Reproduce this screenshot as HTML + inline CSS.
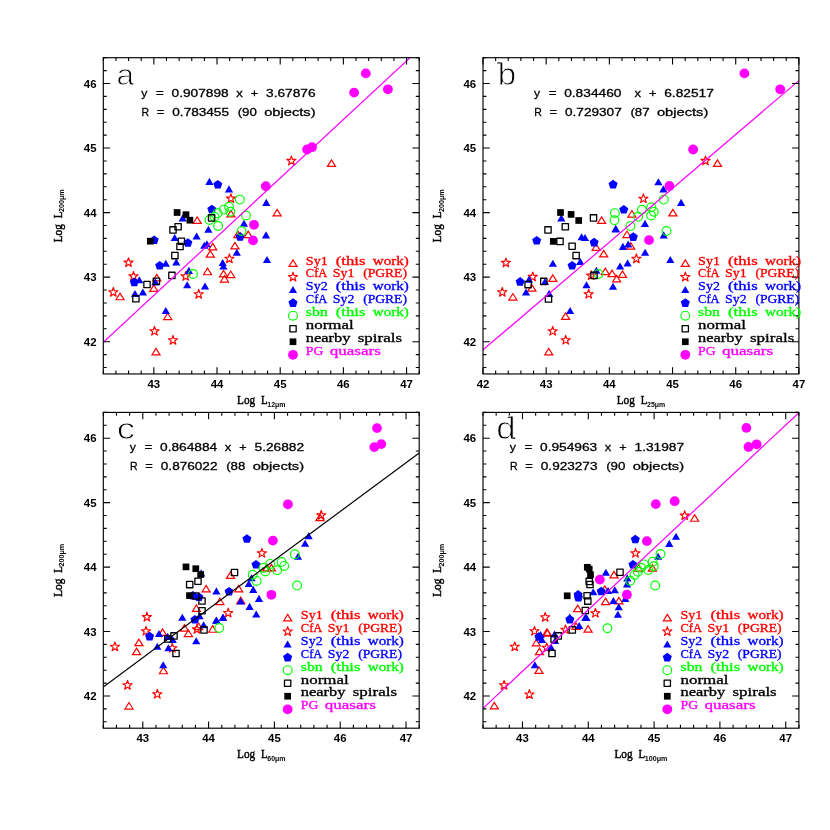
<!DOCTYPE html>
<html><head><meta charset="utf-8"><title>Log L200 correlations</title>
<style>
html,body{margin:0;padding:0;background:#fff;}
body{width:830px;height:830px;overflow:hidden;font-family:"Liberation Sans",sans-serif;}
svg{display:block;will-change:transform;}
.tl{font-family:"Liberation Sans",sans-serif;font-weight:bold;font-size:11.2px;fill:#000;}
.al{font-family:"Liberation Serif",serif;font-size:12.4px;fill:#000;stroke:#000;stroke-width:0.45px;}
.sub{font-family:"Liberation Sans",sans-serif;font-weight:bold;font-size:6.8px;fill:#000;}
.eq{font-family:"Liberation Sans",sans-serif;font-size:11.6px;fill:#000;stroke:#000;stroke-width:0.3px;}
.lg{font-family:"Liberation Serif",serif;font-size:12.5px;stroke-width:0.32px;}
</style></head><body>
<svg width="830" height="830" viewBox="0 0 830 830">
<rect width="830" height="830" fill="#fff"/>
<g id="panel-a">
<clipPath id="clipa"><rect x="103.3" y="57.7" width="315.9" height="316.25"/></clipPath>
<g clip-path="url(#clipa)">
<path d="M193.15 223.45L197.2 216.95L201.25 223.45Z" fill="none" stroke="#ff0000" stroke-width="1.2"/>
<path d="M152.75 280.95L156.8 274.45L160.85 280.95Z" fill="none" stroke="#ff0000" stroke-width="1.2"/>
<path d="M149.75 291.35L153.8 284.85L157.85 291.35Z" fill="none" stroke="#ff0000" stroke-width="1.2"/>
<path d="M115.95 299.75L120 293.25L124.05 299.75Z" fill="none" stroke="#ff0000" stroke-width="1.2"/>
<path d="M226.85 216.95L230.9 210.45L234.95 216.95Z" fill="none" stroke="#ff0000" stroke-width="1.2"/>
<path d="M208.65 249.85L212.7 243.35L216.75 249.85Z" fill="none" stroke="#ff0000" stroke-width="1.2"/>
<path d="M206.25 257.15L210.3 250.65L214.35 257.15Z" fill="none" stroke="#ff0000" stroke-width="1.2"/>
<path d="M203.45 274.75L207.5 268.25L211.55 274.75Z" fill="none" stroke="#ff0000" stroke-width="1.2"/>
<path d="M244.15 237.65L248.2 231.15L252.25 237.65Z" fill="none" stroke="#ff0000" stroke-width="1.2"/>
<path d="M233.85 237.65L237.9 231.15L241.95 237.65Z" fill="none" stroke="#ff0000" stroke-width="1.2"/>
<path d="M230.85 248.95L234.9 242.45L238.95 248.95Z" fill="none" stroke="#ff0000" stroke-width="1.2"/>
<path d="M219.45 276.95L223.5 270.45L227.55 276.95Z" fill="none" stroke="#ff0000" stroke-width="1.2"/>
<path d="M226.65 277.55L230.7 271.05L234.75 277.55Z" fill="none" stroke="#ff0000" stroke-width="1.2"/>
<path d="M220.45 282.05L224.5 275.55L228.55 282.05Z" fill="none" stroke="#ff0000" stroke-width="1.2"/>
<path d="M273.05 215.95L277.1 209.45L281.15 215.95Z" fill="none" stroke="#ff0000" stroke-width="1.2"/>
<path d="M327.45 166.35L331.5 159.85L335.55 166.35Z" fill="none" stroke="#ff0000" stroke-width="1.2"/>
<path d="M163.65 319.55L167.7 313.05L171.75 319.55Z" fill="none" stroke="#ff0000" stroke-width="1.2"/>
<path d="M151.95 354.95L156 348.45L160.05 354.95Z" fill="none" stroke="#ff0000" stroke-width="1.2"/>
<path d="M128.5 257.75L129.62 261.06L133.11 261.1L130.31 263.19L131.35 266.52L128.5 264.5L125.65 266.52L126.69 263.19L123.89 261.1L127.38 261.06Z" fill="none" stroke="#ff0000" stroke-width="1.15" stroke-linejoin="round"/>
<path d="M185.7 271.55L186.82 274.86L190.31 274.9L187.51 276.99L188.55 280.32L185.7 278.3L182.85 280.32L183.89 276.99L181.09 274.9L184.58 274.86Z" fill="none" stroke="#ff0000" stroke-width="1.15" stroke-linejoin="round"/>
<path d="M133.5 271.55L134.62 274.86L138.11 274.9L135.31 276.99L136.35 280.32L133.5 278.3L130.65 280.32L131.69 276.99L128.89 274.9L132.38 274.86Z" fill="none" stroke="#ff0000" stroke-width="1.15" stroke-linejoin="round"/>
<path d="M113.3 287.45L114.42 290.76L117.91 290.8L115.11 292.89L116.15 296.22L113.3 294.2L110.45 296.22L111.49 292.89L108.69 290.8L112.18 290.76Z" fill="none" stroke="#ff0000" stroke-width="1.15" stroke-linejoin="round"/>
<path d="M198.7 289.45L199.82 292.76L203.31 292.8L200.51 294.89L201.55 298.22L198.7 296.2L195.85 298.22L196.89 294.89L194.09 292.8L197.58 292.76Z" fill="none" stroke="#ff0000" stroke-width="1.15" stroke-linejoin="round"/>
<path d="M230.9 193.75L232.02 197.06L235.51 197.1L232.71 199.19L233.75 202.52L230.9 200.5L228.05 202.52L229.09 199.19L226.29 197.1L229.78 197.06Z" fill="none" stroke="#ff0000" stroke-width="1.15" stroke-linejoin="round"/>
<path d="M229.4 253.95L230.52 257.26L234.01 257.3L231.21 259.39L232.25 262.72L229.4 260.7L226.55 262.72L227.59 259.39L224.79 257.3L228.28 257.26Z" fill="none" stroke="#ff0000" stroke-width="1.15" stroke-linejoin="round"/>
<path d="M291.4 156.05L292.52 159.36L296.01 159.4L293.21 161.49L294.25 164.82L291.4 162.8L288.55 164.82L289.59 161.49L286.79 159.4L290.28 159.36Z" fill="none" stroke="#ff0000" stroke-width="1.15" stroke-linejoin="round"/>
<path d="M154.5 326.35L155.62 329.66L159.11 329.7L156.31 331.79L157.35 335.12L154.5 333.1L151.65 335.12L152.69 331.79L149.89 329.7L153.38 329.66Z" fill="none" stroke="#ff0000" stroke-width="1.15" stroke-linejoin="round"/>
<path d="M173 335.45L174.12 338.76L177.61 338.8L174.81 340.89L175.85 344.22L173 342.2L170.15 344.22L171.19 340.89L168.39 338.8L171.88 338.76Z" fill="none" stroke="#ff0000" stroke-width="1.15" stroke-linejoin="round"/>
<path d="M178.6 221.4L182.7 214.35L186.8 221.4Z" fill="#0000ff"/>
<path d="M204.3 232.7L208.4 225.65L212.5 232.7Z" fill="#0000ff"/>
<path d="M170.6 241L174.7 233.95L178.8 241Z" fill="#0000ff"/>
<path d="M192.5 239.5L196.6 232.45L200.7 239.5Z" fill="#0000ff"/>
<path d="M172.2 265.5L176.3 258.45L180.4 265.5Z" fill="#0000ff"/>
<path d="M161.7 266.8L165.8 259.75L169.9 266.8Z" fill="#0000ff"/>
<path d="M184.8 273.9L188.9 266.85L193 273.9Z" fill="#0000ff"/>
<path d="M151.3 285.4L155.4 278.35L159.5 285.4Z" fill="#0000ff"/>
<path d="M135.2 283.3L139.3 276.25L143.4 283.3Z" fill="#0000ff"/>
<path d="M183.1 288.3L187.2 281.25L191.3 288.3Z" fill="#0000ff"/>
<path d="M130.9 297L135 289.95L139.1 297Z" fill="#0000ff"/>
<path d="M138.8 295.5L142.9 288.45L147 295.5Z" fill="#0000ff"/>
<path d="M205.3 184.9L209.4 177.85L213.5 184.9Z" fill="#0000ff"/>
<path d="M224.9 192.4L229 185.35L233.1 192.4Z" fill="#0000ff"/>
<path d="M200.2 248.8L204.3 241.75L208.4 248.8Z" fill="#0000ff"/>
<path d="M202.8 247.3L206.9 240.25L211 247.3Z" fill="#0000ff"/>
<path d="M200.9 289.6L205 282.55L209.1 289.6Z" fill="#0000ff"/>
<path d="M239.9 226.7L244 219.65L248.1 226.7Z" fill="#0000ff"/>
<path d="M261.9 238.4L266 231.35L270.1 238.4Z" fill="#0000ff"/>
<path d="M232.7 255.7L236.8 248.65L240.9 255.7Z" fill="#0000ff"/>
<path d="M262.9 263.1L267 256.05L271.1 263.1Z" fill="#0000ff"/>
<path d="M218.6 266L222.7 258.95L226.8 266Z" fill="#0000ff"/>
<path d="M219.3 269.6L223.4 262.55L227.5 269.6Z" fill="#0000ff"/>
<path d="M262.2 205.9L266.3 198.85L270.4 205.9Z" fill="#0000ff"/>
<path d="M161.7 314L165.8 306.95L169.9 314Z" fill="#0000ff"/>
<path d="M154.2 235.4L158.72 238.68L156.99 243.99L151.41 243.99L149.68 238.68Z" fill="#0000ff"/>
<path d="M187.9 238.2L192.42 241.48L190.69 246.79L185.11 246.79L183.38 241.48Z" fill="#0000ff"/>
<path d="M159.7 261L164.22 264.28L162.49 269.59L156.91 269.59L155.18 264.28Z" fill="#0000ff"/>
<path d="M134.3 277.6L138.82 280.88L137.09 286.19L131.51 286.19L129.78 280.88Z" fill="#0000ff"/>
<path d="M217.8 180L222.32 183.28L220.59 188.59L215.01 188.59L213.28 183.28Z" fill="#0000ff"/>
<path d="M211.8 204.7L216.32 207.98L214.59 213.29L209.01 213.29L207.28 207.98Z" fill="#0000ff"/>
<path d="M240.1 232.1L244.62 235.38L242.89 240.69L237.31 240.69L235.58 235.38Z" fill="#0000ff"/>
<circle cx="209.5" cy="220" r="4.4" fill="none" stroke="#00ff00" stroke-width="1.15"/>
<circle cx="218.1" cy="226" r="4.4" fill="none" stroke="#00ff00" stroke-width="1.15"/>
<circle cx="223.9" cy="209.6" r="4.4" fill="none" stroke="#00ff00" stroke-width="1.15"/>
<circle cx="229" cy="206.8" r="4.4" fill="none" stroke="#00ff00" stroke-width="1.15"/>
<circle cx="230.3" cy="211.7" r="4.4" fill="none" stroke="#00ff00" stroke-width="1.15"/>
<circle cx="239.8" cy="199.6" r="4.4" fill="none" stroke="#00ff00" stroke-width="1.15"/>
<circle cx="246" cy="215.5" r="4.4" fill="none" stroke="#00ff00" stroke-width="1.15"/>
<circle cx="241.6" cy="231" r="4.4" fill="none" stroke="#00ff00" stroke-width="1.15"/>
<circle cx="193" cy="274" r="4.4" fill="none" stroke="#00ff00" stroke-width="1.15"/>
<circle cx="217.6" cy="213.3" r="4.4" fill="none" stroke="#00ff00" stroke-width="1.15"/>
<circle cx="214.5" cy="216.7" r="4.4" fill="none" stroke="#00ff00" stroke-width="1.15"/>
<rect x="174.95" y="223.55" width="6.3" height="6.3" fill="none" stroke="#000000" stroke-width="1.3" stroke-linejoin="round"/>
<rect x="169.85" y="226.75" width="6.3" height="6.3" fill="none" stroke="#000000" stroke-width="1.3" stroke-linejoin="round"/>
<rect x="178.25" y="238.05" width="6.3" height="6.3" fill="none" stroke="#000000" stroke-width="1.3" stroke-linejoin="round"/>
<rect x="176.85" y="243.35" width="6.3" height="6.3" fill="none" stroke="#000000" stroke-width="1.3" stroke-linejoin="round"/>
<rect x="171.75" y="252.45" width="6.3" height="6.3" fill="none" stroke="#000000" stroke-width="1.3" stroke-linejoin="round"/>
<rect x="168.75" y="272.25" width="6.3" height="6.3" fill="none" stroke="#000000" stroke-width="1.3" stroke-linejoin="round"/>
<rect x="153.25" y="278.05" width="6.3" height="6.3" fill="none" stroke="#000000" stroke-width="1.3" stroke-linejoin="round"/>
<rect x="143.85" y="281.35" width="6.3" height="6.3" fill="none" stroke="#000000" stroke-width="1.3" stroke-linejoin="round"/>
<rect x="132.75" y="295.65" width="6.3" height="6.3" fill="none" stroke="#000000" stroke-width="1.3" stroke-linejoin="round"/>
<rect x="208.45" y="214.75" width="6.3" height="6.3" fill="none" stroke="#000000" stroke-width="1.3" stroke-linejoin="round"/>
<rect x="173.75" y="209.15" width="6.7" height="6.7" fill="#000000"/>
<rect x="182.65" y="211.35" width="6.7" height="6.7" fill="#000000"/>
<rect x="186.55" y="216.85" width="6.7" height="6.7" fill="#000000"/>
<rect x="146.95" y="237.85" width="6.7" height="6.7" fill="#000000"/>
<circle cx="254" cy="224.8" r="4.9" fill="#ff00ff"/>
<circle cx="253" cy="240.4" r="4.9" fill="#ff00ff"/>
<circle cx="265.8" cy="186.2" r="4.9" fill="#ff00ff"/>
<circle cx="365.8" cy="73.4" r="4.9" fill="#ff00ff"/>
<circle cx="354.1" cy="92.6" r="4.9" fill="#ff00ff"/>
<circle cx="387.9" cy="89.3" r="4.9" fill="#ff00ff"/>
<circle cx="307.1" cy="149.5" r="4.9" fill="#ff00ff"/>
<circle cx="312" cy="147.2" r="4.9" fill="#ff00ff"/>
</g>
<line x1="103.3" y1="342.19" x2="419.2" y2="49.21" stroke="#ff00ff" stroke-width="1.2" clip-path="url(#clipa)"/>
<path d="M103.3 373.95v-3.4M103.3 57.7v3.4M115.94 373.95v-3.4M115.94 57.7v3.4M128.57 373.95v-3.4M128.57 57.7v3.4M141.21 373.95v-3.4M141.21 57.7v3.4M153.84 373.95v-6.8M153.84 57.7v6.8M166.48 373.95v-3.4M166.48 57.7v3.4M179.12 373.95v-3.4M179.12 57.7v3.4M191.75 373.95v-3.4M191.75 57.7v3.4M204.39 373.95v-3.4M204.39 57.7v3.4M217.02 373.95v-6.8M217.02 57.7v6.8M229.66 373.95v-3.4M229.66 57.7v3.4M242.3 373.95v-3.4M242.3 57.7v3.4M254.93 373.95v-3.4M254.93 57.7v3.4M267.57 373.95v-3.4M267.57 57.7v3.4M280.2 373.95v-6.8M280.2 57.7v6.8M292.84 373.95v-3.4M292.84 57.7v3.4M305.48 373.95v-3.4M305.48 57.7v3.4M318.11 373.95v-3.4M318.11 57.7v3.4M330.75 373.95v-3.4M330.75 57.7v3.4M343.38 373.95v-6.8M343.38 57.7v6.8M356.02 373.95v-3.4M356.02 57.7v3.4M368.66 373.95v-3.4M368.66 57.7v3.4M381.29 373.95v-3.4M381.29 57.7v3.4M393.93 373.95v-3.4M393.93 57.7v3.4M406.56 373.95v-6.8M406.56 57.7v6.8M419.2 373.95v-3.4M419.2 57.7v3.4M103.3 367.5h3.4M419.2 367.5h-3.4M103.3 354.59h3.4M419.2 354.59h-3.4M103.3 341.68h6.8M419.2 341.68h-6.8M103.3 328.77h3.4M419.2 328.77h-3.4M103.3 315.86h3.4M419.2 315.86h-3.4M103.3 302.96h3.4M419.2 302.96h-3.4M103.3 290.05h3.4M419.2 290.05h-3.4M103.3 277.14h6.8M419.2 277.14h-6.8M103.3 264.23h3.4M419.2 264.23h-3.4M103.3 251.32h3.4M419.2 251.32h-3.4M103.3 238.41h3.4M419.2 238.41h-3.4M103.3 225.51h3.4M419.2 225.51h-3.4M103.3 212.6h6.8M419.2 212.6h-6.8M103.3 199.69h3.4M419.2 199.69h-3.4M103.3 186.78h3.4M419.2 186.78h-3.4M103.3 173.87h3.4M419.2 173.87h-3.4M103.3 160.97h3.4M419.2 160.97h-3.4M103.3 148.06h6.8M419.2 148.06h-6.8M103.3 135.15h3.4M419.2 135.15h-3.4M103.3 122.24h3.4M419.2 122.24h-3.4M103.3 109.33h3.4M419.2 109.33h-3.4M103.3 96.42h3.4M419.2 96.42h-3.4M103.3 83.52h6.8M419.2 83.52h-6.8M103.3 70.61h3.4M419.2 70.61h-3.4M103.3 57.7h3.4M419.2 57.7h-3.4" stroke="#000" stroke-width="1.1" fill="none"/>
<rect x="103.3" y="57.7" width="315.9" height="316.25" fill="none" stroke="#000" stroke-width="1.15"/>
<text x="153.84" y="388.05" class="tl" text-anchor="middle" textLength="12.7" lengthAdjust="spacingAndGlyphs">43</text>
<text x="217.02" y="388.05" class="tl" text-anchor="middle" textLength="12.7" lengthAdjust="spacingAndGlyphs">44</text>
<text x="280.2" y="388.05" class="tl" text-anchor="middle" textLength="12.7" lengthAdjust="spacingAndGlyphs">45</text>
<text x="343.38" y="388.05" class="tl" text-anchor="middle" textLength="12.7" lengthAdjust="spacingAndGlyphs">46</text>
<text x="406.56" y="388.05" class="tl" text-anchor="middle" textLength="12.7" lengthAdjust="spacingAndGlyphs">47</text>
<text x="96.5" y="345.78" class="tl" text-anchor="end" textLength="12.7" lengthAdjust="spacingAndGlyphs">42</text>
<text x="96.5" y="281.24" class="tl" text-anchor="end" textLength="12.7" lengthAdjust="spacingAndGlyphs">43</text>
<text x="96.5" y="216.7" class="tl" text-anchor="end" textLength="12.7" lengthAdjust="spacingAndGlyphs">44</text>
<text x="96.5" y="152.16" class="tl" text-anchor="end" textLength="12.7" lengthAdjust="spacingAndGlyphs">45</text>
<text x="96.5" y="87.62" class="tl" text-anchor="end" textLength="12.7" lengthAdjust="spacingAndGlyphs">46</text>
<g transform="translate(261.25 404.05)"><text x="-24.19" y="0" class="al" textLength="18.1" lengthAdjust="spacingAndGlyphs">Log</text><text x="-0.19" y="0" class="al" textLength="6.6" lengthAdjust="spacingAndGlyphs">L</text><text x="6.11" y="2.5" class="sub" textLength="18.08" lengthAdjust="spacingAndGlyphs">12μm</text></g>
<g transform="translate(61.7 215.82) rotate(-90)"><text x="-26.45" y="0" class="al" textLength="18.1" lengthAdjust="spacingAndGlyphs">Log</text><text x="-2.45" y="0" class="al" textLength="6.6" lengthAdjust="spacingAndGlyphs">L</text><text x="3.85" y="2.5" class="sub" textLength="22.6" lengthAdjust="spacingAndGlyphs">200μm</text></g>
<text x="141.3" y="96.6" class="eq" textLength="6.1" lengthAdjust="spacingAndGlyphs">y</text>
<text x="156.1" y="96.6" class="eq" textLength="7.8" lengthAdjust="spacingAndGlyphs">=</text>
<text x="171.5" y="96.6" class="eq" textLength="57.2" lengthAdjust="spacingAndGlyphs">0.907898</text>
<text x="236.2" y="96.6" class="eq" textLength="6.5" lengthAdjust="spacingAndGlyphs">x</text>
<text x="250.7" y="96.6" class="eq" textLength="7.4" lengthAdjust="spacingAndGlyphs">+</text>
<text x="266" y="96.6" class="eq" textLength="49.6" lengthAdjust="spacingAndGlyphs">3.67876</text>
<text x="141.6" y="115.8" class="eq" textLength="7.6" lengthAdjust="spacingAndGlyphs">R</text>
<text x="156.7" y="115.8" class="eq" textLength="7.5" lengthAdjust="spacingAndGlyphs">=</text>
<text x="172.3" y="115.8" class="eq" textLength="56.7" lengthAdjust="spacingAndGlyphs">0.783455</text>
<text x="237.7" y="115.8" class="eq" textLength="19.2" lengthAdjust="spacingAndGlyphs">(90</text>
<text x="264.2" y="115.8" class="eq" textLength="51.4" lengthAdjust="spacingAndGlyphs">objects)</text>
<text x="116.6" y="84.7" font-family="Liberation Sans, sans-serif" font-size="29.3" fill="#000" stroke="#fff" stroke-width="0.95" textLength="17.6" lengthAdjust="spacingAndGlyphs">a</text>
<path d="M288.95 266.45L293 259.95L297.05 266.45Z" fill="none" stroke="#ff0000" stroke-width="1.2"/>
<text x="305.85" y="264.5" class="lg" fill="#ff0000" stroke="#ff0000" textLength="21.8" lengthAdjust="spacingAndGlyphs">Sy1</text>
<text x="335.75" y="264.5" class="lg" fill="#ff0000" stroke="#ff0000" textLength="29.8" lengthAdjust="spacingAndGlyphs">(this</text>
<text x="372.85" y="264.5" class="lg" fill="#ff0000" stroke="#ff0000" textLength="36" lengthAdjust="spacingAndGlyphs">work)</text>
<path d="M293 272.19L294.12 275.5L297.61 275.54L294.81 277.63L295.85 280.96L293 278.94L290.15 280.96L291.19 277.63L288.39 275.54L291.88 275.5Z" fill="none" stroke="#ff0000" stroke-width="1.15" stroke-linejoin="round"/>
<text x="305.85" y="277.38" class="lg" fill="#ff0000" stroke="#ff0000" textLength="21.5" lengthAdjust="spacingAndGlyphs">CfA</text>
<text x="332.85" y="277.38" class="lg" fill="#ff0000" stroke="#ff0000" textLength="21.6" lengthAdjust="spacingAndGlyphs">Sy1</text>
<text x="363.15" y="277.38" class="lg" fill="#ff0000" stroke="#ff0000" textLength="43.8" lengthAdjust="spacingAndGlyphs">(PGRE)</text>
<path d="M288.9 293.08L293 286.03L297.1 293.08Z" fill="#0000ff"/>
<text x="305.85" y="290.26" class="lg" fill="#0000ff" stroke="#0000ff" textLength="21.8" lengthAdjust="spacingAndGlyphs">Sy2</text>
<text x="335.75" y="290.26" class="lg" fill="#0000ff" stroke="#0000ff" textLength="29.8" lengthAdjust="spacingAndGlyphs">(this</text>
<text x="372.85" y="290.26" class="lg" fill="#0000ff" stroke="#0000ff" textLength="36" lengthAdjust="spacingAndGlyphs">work)</text>
<path d="M293 298.32L297.52 301.6L295.79 306.91L290.21 306.91L288.48 301.6Z" fill="#0000ff"/>
<text x="305.85" y="303.14" class="lg" fill="#0000ff" stroke="#0000ff" textLength="21.5" lengthAdjust="spacingAndGlyphs">CfA</text>
<text x="332.85" y="303.14" class="lg" fill="#0000ff" stroke="#0000ff" textLength="21.6" lengthAdjust="spacingAndGlyphs">Sy2</text>
<text x="363.15" y="303.14" class="lg" fill="#0000ff" stroke="#0000ff" textLength="43.8" lengthAdjust="spacingAndGlyphs">(PGRE)</text>
<circle cx="293" cy="315.66" r="4.4" fill="none" stroke="#00ff00" stroke-width="1.15"/>
<text x="305.85" y="316.02" class="lg" fill="#00ff00" stroke="#00ff00" textLength="21.9" lengthAdjust="spacingAndGlyphs">sbn</text>
<text x="335.75" y="316.02" class="lg" fill="#00ff00" stroke="#00ff00" textLength="29.8" lengthAdjust="spacingAndGlyphs">(this</text>
<text x="372.85" y="316.02" class="lg" fill="#00ff00" stroke="#00ff00" textLength="36" lengthAdjust="spacingAndGlyphs">work)</text>
<rect x="289.85" y="325.55" width="6.3" height="6.3" fill="none" stroke="#000000" stroke-width="1.3" stroke-linejoin="round"/>
<text x="305.85" y="328.9" class="lg" fill="#000000" stroke="#000000" textLength="47.8" lengthAdjust="spacingAndGlyphs">normal</text>
<rect x="289.65" y="338.39" width="6.7" height="6.7" fill="#000000"/>
<text x="305.85" y="341.78" class="lg" fill="#000000" stroke="#000000" textLength="44.6" lengthAdjust="spacingAndGlyphs">nearby</text>
<text x="357.75" y="341.78" class="lg" fill="#000000" stroke="#000000" textLength="44.3" lengthAdjust="spacingAndGlyphs">spirals</text>
<circle cx="293" cy="354.78" r="4.9" fill="#ff00ff"/>
<text x="305.85" y="354.66" class="lg" fill="#ff00ff" stroke="#ff00ff" textLength="17.5" lengthAdjust="spacingAndGlyphs">PG</text>
<text x="329.75" y="354.66" class="lg" fill="#ff00ff" stroke="#ff00ff" textLength="51.1" lengthAdjust="spacingAndGlyphs">quasars</text>
</g>
<g id="panel-b">
<clipPath id="clipb"><rect x="483" y="57.7" width="315.9" height="316.25"/></clipPath>
<g clip-path="url(#clipb)">
<path d="M592.05 250.45L596.1 243.95L600.15 250.45Z" fill="none" stroke="#ff0000" stroke-width="1.2"/>
<path d="M599.65 256.85L603.7 250.35L607.75 256.85Z" fill="none" stroke="#ff0000" stroke-width="1.2"/>
<path d="M622.95 237.55L627 231.05L631.05 237.55Z" fill="none" stroke="#ff0000" stroke-width="1.2"/>
<path d="M626.65 249.15L630.7 242.65L634.75 249.15Z" fill="none" stroke="#ff0000" stroke-width="1.2"/>
<path d="M601.25 274.65L605.3 268.15L609.35 274.65Z" fill="none" stroke="#ff0000" stroke-width="1.2"/>
<path d="M608.05 276.65L612.1 270.15L616.15 276.65Z" fill="none" stroke="#ff0000" stroke-width="1.2"/>
<path d="M618.45 277.35L622.5 270.85L626.55 277.35Z" fill="none" stroke="#ff0000" stroke-width="1.2"/>
<path d="M612.55 281.95L616.6 275.45L620.65 281.95Z" fill="none" stroke="#ff0000" stroke-width="1.2"/>
<path d="M627.85 217.05L631.9 210.55L635.95 217.05Z" fill="none" stroke="#ff0000" stroke-width="1.2"/>
<path d="M668.85 215.85L672.9 209.35L676.95 215.85Z" fill="none" stroke="#ff0000" stroke-width="1.2"/>
<path d="M597.55 223.45L601.6 216.95L605.65 223.45Z" fill="none" stroke="#ff0000" stroke-width="1.2"/>
<path d="M713.45 166.35L717.5 159.85L721.55 166.35Z" fill="none" stroke="#ff0000" stroke-width="1.2"/>
<path d="M527.85 291.15L531.9 284.65L535.95 291.15Z" fill="none" stroke="#ff0000" stroke-width="1.2"/>
<path d="M548.75 281.35L552.8 274.85L556.85 281.35Z" fill="none" stroke="#ff0000" stroke-width="1.2"/>
<path d="M508.85 300.05L512.9 293.55L516.95 300.05Z" fill="none" stroke="#ff0000" stroke-width="1.2"/>
<path d="M561.55 319.35L565.6 312.85L569.65 319.35Z" fill="none" stroke="#ff0000" stroke-width="1.2"/>
<path d="M544.65 354.95L548.7 348.45L552.75 354.95Z" fill="none" stroke="#ff0000" stroke-width="1.2"/>
<path d="M636.4 253.95L637.52 257.26L641.01 257.3L638.21 259.39L639.25 262.72L636.4 260.7L633.55 262.72L634.59 259.39L631.79 257.3L635.28 257.26Z" fill="none" stroke="#ff0000" stroke-width="1.15" stroke-linejoin="round"/>
<path d="M591.1 270.75L592.22 274.06L595.71 274.1L592.91 276.19L593.95 279.52L591.1 277.5L588.25 279.52L589.29 276.19L586.49 274.1L589.98 274.06Z" fill="none" stroke="#ff0000" stroke-width="1.15" stroke-linejoin="round"/>
<path d="M588.7 289.35L589.82 292.66L593.31 292.7L590.51 294.79L591.55 298.12L588.7 296.1L585.85 298.12L586.89 294.79L584.09 292.7L587.58 292.66Z" fill="none" stroke="#ff0000" stroke-width="1.15" stroke-linejoin="round"/>
<path d="M643.4 193.85L644.52 197.16L648.01 197.2L645.21 199.29L646.25 202.62L643.4 200.6L640.55 202.62L641.59 199.29L638.79 197.2L642.28 197.16Z" fill="none" stroke="#ff0000" stroke-width="1.15" stroke-linejoin="round"/>
<path d="M705.5 156.05L706.62 159.36L710.11 159.4L707.31 161.49L708.35 164.82L705.5 162.8L702.65 164.82L703.69 161.49L700.89 159.4L704.38 159.36Z" fill="none" stroke="#ff0000" stroke-width="1.15" stroke-linejoin="round"/>
<path d="M505.9 258.05L507.02 261.36L510.51 261.4L507.71 263.49L508.75 266.82L505.9 264.8L503.05 266.82L504.09 263.49L501.29 261.4L504.78 261.36Z" fill="none" stroke="#ff0000" stroke-width="1.15" stroke-linejoin="round"/>
<path d="M532.7 272.05L533.82 275.36L537.31 275.4L534.51 277.49L535.55 280.82L532.7 278.8L529.85 280.82L530.89 277.49L528.09 275.4L531.58 275.36Z" fill="none" stroke="#ff0000" stroke-width="1.15" stroke-linejoin="round"/>
<path d="M502.3 287.45L503.42 290.76L506.91 290.8L504.11 292.89L505.15 296.22L502.3 294.2L499.45 296.22L500.49 292.89L497.69 290.8L501.18 290.76Z" fill="none" stroke="#ff0000" stroke-width="1.15" stroke-linejoin="round"/>
<path d="M552.7 326.35L553.82 329.66L557.31 329.7L554.51 331.79L555.55 335.12L552.7 333.1L549.85 335.12L550.89 331.79L548.09 329.7L551.58 329.66Z" fill="none" stroke="#ff0000" stroke-width="1.15" stroke-linejoin="round"/>
<path d="M565.7 335.35L566.82 338.66L570.31 338.7L567.51 340.79L568.55 344.12L565.7 342.1L562.85 344.12L563.89 340.79L561.09 338.7L564.58 338.66Z" fill="none" stroke="#ff0000" stroke-width="1.15" stroke-linejoin="round"/>
<path d="M557.2 221.4L561.3 214.35L565.4 221.4Z" fill="#0000ff"/>
<path d="M576.1 264.9L580.2 257.85L584.3 264.9Z" fill="#0000ff"/>
<path d="M577.5 240.3L581.6 233.25L585.7 240.3Z" fill="#0000ff"/>
<path d="M580.9 241L585 233.95L589.1 241Z" fill="#0000ff"/>
<path d="M618.8 249.9L622.9 242.85L627 249.9Z" fill="#0000ff"/>
<path d="M624.1 247.6L628.2 240.55L632.3 247.6Z" fill="#0000ff"/>
<path d="M641 255.8L645.1 248.75L649.2 255.8Z" fill="#0000ff"/>
<path d="M623.5 266.4L627.6 259.35L631.7 266.4Z" fill="#0000ff"/>
<path d="M616 269.5L620.1 262.45L624.2 269.5Z" fill="#0000ff"/>
<path d="M592.3 273.8L596.4 266.75L600.5 273.8Z" fill="#0000ff"/>
<path d="M582.4 288.3L586.5 281.25L590.6 288.3Z" fill="#0000ff"/>
<path d="M608.9 289.7L613 282.65L617.1 289.7Z" fill="#0000ff"/>
<path d="M640.9 226.9L645 219.85L649.1 226.9Z" fill="#0000ff"/>
<path d="M611.6 232.4L615.7 225.35L619.8 232.4Z" fill="#0000ff"/>
<path d="M659.6 238.4L663.7 231.35L667.8 238.4Z" fill="#0000ff"/>
<path d="M666.2 263L670.3 255.95L674.4 263Z" fill="#0000ff"/>
<path d="M654.3 185.2L658.4 178.15L662.5 185.2Z" fill="#0000ff"/>
<path d="M659.3 192.4L663.4 185.35L667.5 192.4Z" fill="#0000ff"/>
<path d="M677 205.9L681.1 198.85L685.2 205.9Z" fill="#0000ff"/>
<path d="M611.6 231.9L615.7 224.85L619.8 231.9Z" fill="#0000ff"/>
<path d="M548.8 266.8L552.9 259.75L557 266.8Z" fill="#0000ff"/>
<path d="M524.9 282.8L529 275.75L533.1 282.8Z" fill="#0000ff"/>
<path d="M521.9 295.6L526 288.55L530.1 295.6Z" fill="#0000ff"/>
<path d="M540.9 285.1L545 278.05L549.1 285.1Z" fill="#0000ff"/>
<path d="M545.1 296.9L549.2 289.85L553.3 296.9Z" fill="#0000ff"/>
<path d="M566 314L570.1 306.95L574.2 314Z" fill="#0000ff"/>
<path d="M536.7 236L541.22 239.28L539.49 244.59L533.91 244.59L532.18 239.28Z" fill="#0000ff"/>
<path d="M572.1 261L576.62 264.28L574.89 269.59L569.31 269.59L567.58 264.28Z" fill="#0000ff"/>
<path d="M594.1 237.8L598.62 241.08L596.89 246.39L591.31 246.39L589.58 241.08Z" fill="#0000ff"/>
<path d="M633.3 232.3L637.82 235.58L636.09 240.89L630.51 240.89L628.78 235.58Z" fill="#0000ff"/>
<path d="M623.8 205L628.32 208.28L626.59 213.59L621.01 213.59L619.28 208.28Z" fill="#0000ff"/>
<path d="M613.1 179.8L617.62 183.08L615.89 188.39L610.31 188.39L608.58 183.08Z" fill="#0000ff"/>
<path d="M520.1 277.1L524.62 280.38L522.89 285.69L517.31 285.69L515.58 280.38Z" fill="#0000ff"/>
<circle cx="598.5" cy="274" r="4.4" fill="none" stroke="#00ff00" stroke-width="1.15"/>
<circle cx="663.8" cy="199.6" r="4.4" fill="none" stroke="#00ff00" stroke-width="1.15"/>
<circle cx="651.3" cy="207.2" r="4.4" fill="none" stroke="#00ff00" stroke-width="1.15"/>
<circle cx="641.9" cy="209.8" r="4.4" fill="none" stroke="#00ff00" stroke-width="1.15"/>
<circle cx="653.8" cy="211.7" r="4.4" fill="none" stroke="#00ff00" stroke-width="1.15"/>
<circle cx="651.1" cy="215.5" r="4.4" fill="none" stroke="#00ff00" stroke-width="1.15"/>
<circle cx="638.1" cy="216.8" r="4.4" fill="none" stroke="#00ff00" stroke-width="1.15"/>
<circle cx="614.9" cy="213.1" r="4.4" fill="none" stroke="#00ff00" stroke-width="1.15"/>
<circle cx="614.5" cy="220.2" r="4.4" fill="none" stroke="#00ff00" stroke-width="1.15"/>
<circle cx="630.4" cy="226.1" r="4.4" fill="none" stroke="#00ff00" stroke-width="1.15"/>
<circle cx="666.5" cy="231" r="4.4" fill="none" stroke="#00ff00" stroke-width="1.15"/>
<rect x="590.35" y="214.75" width="6.3" height="6.3" fill="none" stroke="#000000" stroke-width="1.3" stroke-linejoin="round"/>
<rect x="562.15" y="223.55" width="6.3" height="6.3" fill="none" stroke="#000000" stroke-width="1.3" stroke-linejoin="round"/>
<rect x="544.85" y="226.75" width="6.3" height="6.3" fill="none" stroke="#000000" stroke-width="1.3" stroke-linejoin="round"/>
<rect x="556.85" y="238.25" width="6.3" height="6.3" fill="none" stroke="#000000" stroke-width="1.3" stroke-linejoin="round"/>
<rect x="568.95" y="243.05" width="6.3" height="6.3" fill="none" stroke="#000000" stroke-width="1.3" stroke-linejoin="round"/>
<rect x="572.95" y="252.45" width="6.3" height="6.3" fill="none" stroke="#000000" stroke-width="1.3" stroke-linejoin="round"/>
<rect x="590.85" y="272.25" width="6.3" height="6.3" fill="none" stroke="#000000" stroke-width="1.3" stroke-linejoin="round"/>
<rect x="524.95" y="281.45" width="6.3" height="6.3" fill="none" stroke="#000000" stroke-width="1.3" stroke-linejoin="round"/>
<rect x="540.65" y="278.25" width="6.3" height="6.3" fill="none" stroke="#000000" stroke-width="1.3" stroke-linejoin="round"/>
<rect x="545.35" y="295.85" width="6.3" height="6.3" fill="none" stroke="#000000" stroke-width="1.3" stroke-linejoin="round"/>
<rect x="557.15" y="209.15" width="6.7" height="6.7" fill="#000000"/>
<rect x="567.75" y="211.05" width="6.7" height="6.7" fill="#000000"/>
<rect x="575.35" y="217.15" width="6.7" height="6.7" fill="#000000"/>
<rect x="549.95" y="238.05" width="6.7" height="6.7" fill="#000000"/>
<circle cx="649" cy="240.1" r="4.9" fill="#ff00ff"/>
<circle cx="744.4" cy="73.4" r="4.9" fill="#ff00ff"/>
<circle cx="780.2" cy="89.3" r="4.9" fill="#ff00ff"/>
<circle cx="693.1" cy="149.5" r="4.9" fill="#ff00ff"/>
<circle cx="669.4" cy="186" r="4.9" fill="#ff00ff"/>
</g>
<line x1="483" y1="349.91" x2="798.9" y2="80.63" stroke="#ff00ff" stroke-width="1.2" clip-path="url(#clipb)"/>
<path d="M483 373.95v-6.8M483 57.7v6.8M495.64 373.95v-3.4M495.64 57.7v3.4M508.27 373.95v-3.4M508.27 57.7v3.4M520.91 373.95v-3.4M520.91 57.7v3.4M533.54 373.95v-3.4M533.54 57.7v3.4M546.18 373.95v-6.8M546.18 57.7v6.8M558.82 373.95v-3.4M558.82 57.7v3.4M571.45 373.95v-3.4M571.45 57.7v3.4M584.09 373.95v-3.4M584.09 57.7v3.4M596.72 373.95v-3.4M596.72 57.7v3.4M609.36 373.95v-6.8M609.36 57.7v6.8M622 373.95v-3.4M622 57.7v3.4M634.63 373.95v-3.4M634.63 57.7v3.4M647.27 373.95v-3.4M647.27 57.7v3.4M659.9 373.95v-3.4M659.9 57.7v3.4M672.54 373.95v-6.8M672.54 57.7v6.8M685.18 373.95v-3.4M685.18 57.7v3.4M697.81 373.95v-3.4M697.81 57.7v3.4M710.45 373.95v-3.4M710.45 57.7v3.4M723.08 373.95v-3.4M723.08 57.7v3.4M735.72 373.95v-6.8M735.72 57.7v6.8M748.36 373.95v-3.4M748.36 57.7v3.4M760.99 373.95v-3.4M760.99 57.7v3.4M773.63 373.95v-3.4M773.63 57.7v3.4M786.26 373.95v-3.4M786.26 57.7v3.4M798.9 373.95v-6.8M798.9 57.7v6.8M483 367.5h3.4M798.9 367.5h-3.4M483 354.59h3.4M798.9 354.59h-3.4M483 341.68h6.8M798.9 341.68h-6.8M483 328.77h3.4M798.9 328.77h-3.4M483 315.86h3.4M798.9 315.86h-3.4M483 302.96h3.4M798.9 302.96h-3.4M483 290.05h3.4M798.9 290.05h-3.4M483 277.14h6.8M798.9 277.14h-6.8M483 264.23h3.4M798.9 264.23h-3.4M483 251.32h3.4M798.9 251.32h-3.4M483 238.41h3.4M798.9 238.41h-3.4M483 225.51h3.4M798.9 225.51h-3.4M483 212.6h6.8M798.9 212.6h-6.8M483 199.69h3.4M798.9 199.69h-3.4M483 186.78h3.4M798.9 186.78h-3.4M483 173.87h3.4M798.9 173.87h-3.4M483 160.97h3.4M798.9 160.97h-3.4M483 148.06h6.8M798.9 148.06h-6.8M483 135.15h3.4M798.9 135.15h-3.4M483 122.24h3.4M798.9 122.24h-3.4M483 109.33h3.4M798.9 109.33h-3.4M483 96.42h3.4M798.9 96.42h-3.4M483 83.52h6.8M798.9 83.52h-6.8M483 70.61h3.4M798.9 70.61h-3.4M483 57.7h3.4M798.9 57.7h-3.4" stroke="#000" stroke-width="1.1" fill="none"/>
<rect x="483" y="57.7" width="315.9" height="316.25" fill="none" stroke="#000" stroke-width="1.15"/>
<text x="483" y="388.05" class="tl" text-anchor="middle" textLength="12.7" lengthAdjust="spacingAndGlyphs">42</text>
<text x="546.18" y="388.05" class="tl" text-anchor="middle" textLength="12.7" lengthAdjust="spacingAndGlyphs">43</text>
<text x="609.36" y="388.05" class="tl" text-anchor="middle" textLength="12.7" lengthAdjust="spacingAndGlyphs">44</text>
<text x="672.54" y="388.05" class="tl" text-anchor="middle" textLength="12.7" lengthAdjust="spacingAndGlyphs">45</text>
<text x="735.72" y="388.05" class="tl" text-anchor="middle" textLength="12.7" lengthAdjust="spacingAndGlyphs">46</text>
<text x="798.9" y="388.05" class="tl" text-anchor="middle" textLength="12.7" lengthAdjust="spacingAndGlyphs">47</text>
<text x="476.2" y="345.78" class="tl" text-anchor="end" textLength="12.7" lengthAdjust="spacingAndGlyphs">42</text>
<text x="476.2" y="281.24" class="tl" text-anchor="end" textLength="12.7" lengthAdjust="spacingAndGlyphs">43</text>
<text x="476.2" y="216.7" class="tl" text-anchor="end" textLength="12.7" lengthAdjust="spacingAndGlyphs">44</text>
<text x="476.2" y="152.16" class="tl" text-anchor="end" textLength="12.7" lengthAdjust="spacingAndGlyphs">45</text>
<text x="476.2" y="87.62" class="tl" text-anchor="end" textLength="12.7" lengthAdjust="spacingAndGlyphs">46</text>
<g transform="translate(640.95 404.05)"><text x="-24.19" y="0" class="al" textLength="18.1" lengthAdjust="spacingAndGlyphs">Log</text><text x="-0.19" y="0" class="al" textLength="6.6" lengthAdjust="spacingAndGlyphs">L</text><text x="6.11" y="2.5" class="sub" textLength="18.08" lengthAdjust="spacingAndGlyphs">25μm</text></g>
<g transform="translate(441.4 215.82) rotate(-90)"><text x="-26.45" y="0" class="al" textLength="18.1" lengthAdjust="spacingAndGlyphs">Log</text><text x="-2.45" y="0" class="al" textLength="6.6" lengthAdjust="spacingAndGlyphs">L</text><text x="3.85" y="2.5" class="sub" textLength="22.6" lengthAdjust="spacingAndGlyphs">200μm</text></g>
<text x="534" y="96.6" class="eq" textLength="6.1" lengthAdjust="spacingAndGlyphs">y</text>
<text x="548.8" y="96.6" class="eq" textLength="7.8" lengthAdjust="spacingAndGlyphs">=</text>
<text x="564.2" y="96.6" class="eq" textLength="57.2" lengthAdjust="spacingAndGlyphs">0.834460</text>
<text x="634.4" y="96.6" class="eq" textLength="6.5" lengthAdjust="spacingAndGlyphs">x</text>
<text x="648.9" y="96.6" class="eq" textLength="7.4" lengthAdjust="spacingAndGlyphs">+</text>
<text x="664.2" y="96.6" class="eq" textLength="49.6" lengthAdjust="spacingAndGlyphs">6.82517</text>
<text x="534.3" y="115.8" class="eq" textLength="7.6" lengthAdjust="spacingAndGlyphs">R</text>
<text x="549.4" y="115.8" class="eq" textLength="7.5" lengthAdjust="spacingAndGlyphs">=</text>
<text x="565" y="115.8" class="eq" textLength="56.7" lengthAdjust="spacingAndGlyphs">0.729307</text>
<text x="630.4" y="115.8" class="eq" textLength="19.2" lengthAdjust="spacingAndGlyphs">(87</text>
<text x="656.9" y="115.8" class="eq" textLength="51.4" lengthAdjust="spacingAndGlyphs">objects)</text>
<text x="497.8" y="84.5" font-family="Liberation Sans, sans-serif" font-size="30.6" fill="#000" stroke="#fff" stroke-width="0.95" textLength="18.4" lengthAdjust="spacingAndGlyphs">b</text>
<path d="M497.3 62.9H500.6" stroke="#000" stroke-width="1.1" fill="none"/>
<path d="M681.25 266.45L685.3 259.95L689.35 266.45Z" fill="none" stroke="#ff0000" stroke-width="1.2"/>
<text x="698.1" y="264.5" class="lg" fill="#ff0000" stroke="#ff0000" textLength="21.8" lengthAdjust="spacingAndGlyphs">Sy1</text>
<text x="728" y="264.5" class="lg" fill="#ff0000" stroke="#ff0000" textLength="29.8" lengthAdjust="spacingAndGlyphs">(this</text>
<text x="765.1" y="264.5" class="lg" fill="#ff0000" stroke="#ff0000" textLength="36" lengthAdjust="spacingAndGlyphs">work)</text>
<path d="M685.3 272.19L686.42 275.5L689.91 275.54L687.11 277.63L688.15 280.96L685.3 278.94L682.45 280.96L683.49 277.63L680.69 275.54L684.18 275.5Z" fill="none" stroke="#ff0000" stroke-width="1.15" stroke-linejoin="round"/>
<text x="698.1" y="277.38" class="lg" fill="#ff0000" stroke="#ff0000" textLength="21.5" lengthAdjust="spacingAndGlyphs">CfA</text>
<text x="725.1" y="277.38" class="lg" fill="#ff0000" stroke="#ff0000" textLength="21.6" lengthAdjust="spacingAndGlyphs">Sy1</text>
<text x="755.4" y="277.38" class="lg" fill="#ff0000" stroke="#ff0000" textLength="43.8" lengthAdjust="spacingAndGlyphs">(PGRE)</text>
<path d="M681.2 293.08L685.3 286.03L689.4 293.08Z" fill="#0000ff"/>
<text x="698.1" y="290.26" class="lg" fill="#0000ff" stroke="#0000ff" textLength="21.8" lengthAdjust="spacingAndGlyphs">Sy2</text>
<text x="728" y="290.26" class="lg" fill="#0000ff" stroke="#0000ff" textLength="29.8" lengthAdjust="spacingAndGlyphs">(this</text>
<text x="765.1" y="290.26" class="lg" fill="#0000ff" stroke="#0000ff" textLength="36" lengthAdjust="spacingAndGlyphs">work)</text>
<path d="M685.3 298.32L689.82 301.6L688.09 306.91L682.51 306.91L680.78 301.6Z" fill="#0000ff"/>
<text x="698.1" y="303.14" class="lg" fill="#0000ff" stroke="#0000ff" textLength="21.5" lengthAdjust="spacingAndGlyphs">CfA</text>
<text x="725.1" y="303.14" class="lg" fill="#0000ff" stroke="#0000ff" textLength="21.6" lengthAdjust="spacingAndGlyphs">Sy2</text>
<text x="755.4" y="303.14" class="lg" fill="#0000ff" stroke="#0000ff" textLength="43.8" lengthAdjust="spacingAndGlyphs">(PGRE)</text>
<circle cx="685.3" cy="315.66" r="4.4" fill="none" stroke="#00ff00" stroke-width="1.15"/>
<text x="698.1" y="316.02" class="lg" fill="#00ff00" stroke="#00ff00" textLength="21.9" lengthAdjust="spacingAndGlyphs">sbn</text>
<text x="728" y="316.02" class="lg" fill="#00ff00" stroke="#00ff00" textLength="29.8" lengthAdjust="spacingAndGlyphs">(this</text>
<text x="765.1" y="316.02" class="lg" fill="#00ff00" stroke="#00ff00" textLength="36" lengthAdjust="spacingAndGlyphs">work)</text>
<rect x="682.15" y="325.55" width="6.3" height="6.3" fill="none" stroke="#000000" stroke-width="1.3" stroke-linejoin="round"/>
<text x="698.1" y="328.9" class="lg" fill="#000000" stroke="#000000" textLength="47.8" lengthAdjust="spacingAndGlyphs">normal</text>
<rect x="681.95" y="338.39" width="6.7" height="6.7" fill="#000000"/>
<text x="698.1" y="341.78" class="lg" fill="#000000" stroke="#000000" textLength="44.6" lengthAdjust="spacingAndGlyphs">nearby</text>
<text x="750" y="341.78" class="lg" fill="#000000" stroke="#000000" textLength="44.3" lengthAdjust="spacingAndGlyphs">spirals</text>
<circle cx="685.3" cy="354.78" r="4.9" fill="#ff00ff"/>
<text x="698.1" y="354.66" class="lg" fill="#ff00ff" stroke="#ff00ff" textLength="17.5" lengthAdjust="spacingAndGlyphs">PG</text>
<text x="722" y="354.66" class="lg" fill="#ff00ff" stroke="#ff00ff" textLength="51.1" lengthAdjust="spacingAndGlyphs">quasars</text>
</g>
<g id="panel-c">
<clipPath id="clipc"><rect x="103.3" y="412.4" width="315.9" height="315.8"/></clipPath>
<g clip-path="url(#clipc)">
<path d="M202.05 591.95L206.1 585.45L210.15 591.95Z" fill="none" stroke="#ff0000" stroke-width="1.2"/>
<path d="M215.85 604.55L219.9 598.05L223.95 604.55Z" fill="none" stroke="#ff0000" stroke-width="1.2"/>
<path d="M192.35 611.45L196.4 604.95L200.45 611.45Z" fill="none" stroke="#ff0000" stroke-width="1.2"/>
<path d="M194.55 629.55L198.6 623.05L202.65 629.55Z" fill="none" stroke="#ff0000" stroke-width="1.2"/>
<path d="M208.65 632.25L212.7 625.75L216.75 632.25Z" fill="none" stroke="#ff0000" stroke-width="1.2"/>
<path d="M180.45 631.15L184.5 624.65L188.55 631.15Z" fill="none" stroke="#ff0000" stroke-width="1.2"/>
<path d="M184.35 636.55L188.4 630.05L192.45 636.55Z" fill="none" stroke="#ff0000" stroke-width="1.2"/>
<path d="M158.55 635.35L162.6 628.85L166.65 635.35Z" fill="none" stroke="#ff0000" stroke-width="1.2"/>
<path d="M134.85 645.65L138.9 639.15L142.95 645.65Z" fill="none" stroke="#ff0000" stroke-width="1.2"/>
<path d="M132.55 654.65L136.6 648.15L140.65 654.65Z" fill="none" stroke="#ff0000" stroke-width="1.2"/>
<path d="M159.35 673.75L163.4 667.25L167.45 673.75Z" fill="none" stroke="#ff0000" stroke-width="1.2"/>
<path d="M124.95 709.05L129 702.55L133.05 709.05Z" fill="none" stroke="#ff0000" stroke-width="1.2"/>
<path d="M262.85 570.85L266.9 564.35L270.95 570.85Z" fill="none" stroke="#ff0000" stroke-width="1.2"/>
<path d="M267.35 570.85L271.4 564.35L275.45 570.85Z" fill="none" stroke="#ff0000" stroke-width="1.2"/>
<path d="M234.65 591.95L238.7 585.45L242.75 591.95Z" fill="none" stroke="#ff0000" stroke-width="1.2"/>
<path d="M236.65 603.75L240.7 597.25L244.75 603.75Z" fill="none" stroke="#ff0000" stroke-width="1.2"/>
<path d="M226.45 578.35L230.5 571.85L234.55 578.35Z" fill="none" stroke="#ff0000" stroke-width="1.2"/>
<path d="M315.95 520.65L320 514.15L324.05 520.65Z" fill="none" stroke="#ff0000" stroke-width="1.2"/>
<path d="M196.9 624.55L198.02 627.86L201.51 627.9L198.71 629.99L199.75 633.32L196.9 631.3L194.05 633.32L195.09 629.99L192.29 627.9L195.78 627.86Z" fill="none" stroke="#ff0000" stroke-width="1.15" stroke-linejoin="round"/>
<path d="M146.9 612.25L148.02 615.56L151.51 615.6L148.71 617.69L149.75 621.02L146.9 619L144.05 621.02L145.09 617.69L142.29 615.6L145.78 615.56Z" fill="none" stroke="#ff0000" stroke-width="1.15" stroke-linejoin="round"/>
<path d="M146 626.35L147.12 629.66L150.61 629.7L147.81 631.79L148.85 635.12L146 633.1L143.15 635.12L144.19 631.79L141.39 629.7L144.88 629.66Z" fill="none" stroke="#ff0000" stroke-width="1.15" stroke-linejoin="round"/>
<path d="M172.3 643.35L173.42 646.66L176.91 646.7L174.11 648.79L175.15 652.12L172.3 650.1L169.45 652.12L170.49 648.79L167.69 646.7L171.18 646.66Z" fill="none" stroke="#ff0000" stroke-width="1.15" stroke-linejoin="round"/>
<path d="M114.9 641.95L116.02 645.26L119.51 645.3L116.71 647.39L117.75 650.72L114.9 648.7L112.05 650.72L113.09 647.39L110.29 645.3L113.78 645.26Z" fill="none" stroke="#ff0000" stroke-width="1.15" stroke-linejoin="round"/>
<path d="M127.5 680.45L128.62 683.76L132.11 683.8L129.31 685.89L130.35 689.22L127.5 687.2L124.65 689.22L125.69 685.89L122.89 683.8L126.38 683.76Z" fill="none" stroke="#ff0000" stroke-width="1.15" stroke-linejoin="round"/>
<path d="M157.3 689.35L158.42 692.66L161.91 692.7L159.11 694.79L160.15 698.12L157.3 696.1L154.45 698.12L155.49 694.79L152.69 692.7L156.18 692.66Z" fill="none" stroke="#ff0000" stroke-width="1.15" stroke-linejoin="round"/>
<path d="M261.9 548.35L263.02 551.66L266.51 551.7L263.71 553.79L264.75 557.12L261.9 555.1L259.05 557.12L260.09 553.79L257.29 551.7L260.78 551.66Z" fill="none" stroke="#ff0000" stroke-width="1.15" stroke-linejoin="round"/>
<path d="M228.2 608.15L229.32 611.46L232.81 611.5L230.01 613.59L231.05 616.92L228.2 614.9L225.35 616.92L226.39 613.59L223.59 611.5L227.08 611.46Z" fill="none" stroke="#ff0000" stroke-width="1.15" stroke-linejoin="round"/>
<path d="M321.2 510.45L322.32 513.76L325.81 513.8L323.01 515.89L324.05 519.22L321.2 517.2L318.35 519.22L319.39 515.89L316.59 513.8L320.08 513.76Z" fill="none" stroke="#ff0000" stroke-width="1.15" stroke-linejoin="round"/>
<path d="M197.1 576.4L201.2 569.35L205.3 576.4Z" fill="#0000ff"/>
<path d="M212.3 594.4L216.4 587.35L220.5 594.4Z" fill="#0000ff"/>
<path d="M178.2 620.8L182.3 613.75L186.4 620.8Z" fill="#0000ff"/>
<path d="M195.5 619.3L199.6 612.25L203.7 619.3Z" fill="#0000ff"/>
<path d="M212.2 623.7L216.3 616.65L220.4 623.7Z" fill="#0000ff"/>
<path d="M218.9 620.8L223 613.75L227.1 620.8Z" fill="#0000ff"/>
<path d="M199.5 628.3L203.6 621.25L207.7 628.3Z" fill="#0000ff"/>
<path d="M192.1 644.2L196.2 637.15L200.3 644.2Z" fill="#0000ff"/>
<path d="M154.9 637.1L159 630.05L163.1 637.1Z" fill="#0000ff"/>
<path d="M163.6 639.9L167.7 632.85L171.8 639.9Z" fill="#0000ff"/>
<path d="M168.6 642.9L172.7 635.85L176.8 642.9Z" fill="#0000ff"/>
<path d="M153.2 649.8L157.3 642.75L161.4 649.8Z" fill="#0000ff"/>
<path d="M164.3 651.2L168.4 644.15L172.5 651.2Z" fill="#0000ff"/>
<path d="M159.1 668.2L163.2 661.15L167.3 668.2Z" fill="#0000ff"/>
<path d="M293.9 559.7L298 552.65L302.1 559.7Z" fill="#0000ff"/>
<path d="M247.5 581.2L251.6 574.15L255.7 581.2Z" fill="#0000ff"/>
<path d="M244.7 587.1L248.8 580.05L252.9 587.1Z" fill="#0000ff"/>
<path d="M249.2 592.9L253.3 585.85L257.4 592.9Z" fill="#0000ff"/>
<path d="M254.9 601.9L259 594.85L263.1 601.9Z" fill="#0000ff"/>
<path d="M236.6 604.5L240.7 597.45L244.8 604.5Z" fill="#0000ff"/>
<path d="M245.5 609.9L249.6 602.85L253.7 609.9Z" fill="#0000ff"/>
<path d="M252.1 617.6L256.2 610.55L260.3 617.6Z" fill="#0000ff"/>
<path d="M218.9 620.7L223 613.65L227.1 620.7Z" fill="#0000ff"/>
<path d="M212.3 623.6L216.4 616.55L220.5 623.6Z" fill="#0000ff"/>
<path d="M304.6 539.3L308.7 532.25L312.8 539.3Z" fill="#0000ff"/>
<path d="M301 546.8L305.1 539.75L309.2 546.8Z" fill="#0000ff"/>
<path d="M193 590.9L197.52 594.18L195.79 599.49L190.21 599.49L188.48 594.18Z" fill="#0000ff"/>
<path d="M198.9 592.5L203.42 595.78L201.69 601.09L196.11 601.09L194.38 595.78Z" fill="#0000ff"/>
<path d="M194.9 614.9L199.42 618.18L197.69 623.49L192.11 623.49L190.38 618.18Z" fill="#0000ff"/>
<path d="M149.6 631.8L154.12 635.08L152.39 640.39L146.81 640.39L145.08 635.08Z" fill="#0000ff"/>
<path d="M246.9 534.2L251.42 537.48L249.69 542.79L244.11 542.79L242.38 537.48Z" fill="#0000ff"/>
<path d="M256 560L260.52 563.28L258.79 568.59L253.21 568.59L251.48 563.28Z" fill="#0000ff"/>
<path d="M229.1 586.9L233.62 590.18L231.89 595.49L226.31 595.49L224.58 590.18Z" fill="#0000ff"/>
<circle cx="219.2" cy="628" r="4.4" fill="none" stroke="#00ff00" stroke-width="1.15"/>
<circle cx="294.9" cy="554.2" r="4.4" fill="none" stroke="#00ff00" stroke-width="1.15"/>
<circle cx="270.2" cy="563.9" r="4.4" fill="none" stroke="#00ff00" stroke-width="1.15"/>
<circle cx="281.6" cy="562.1" r="4.4" fill="none" stroke="#00ff00" stroke-width="1.15"/>
<circle cx="284.2" cy="565.9" r="4.4" fill="none" stroke="#00ff00" stroke-width="1.15"/>
<circle cx="263.5" cy="567.9" r="4.4" fill="none" stroke="#00ff00" stroke-width="1.15"/>
<circle cx="265.3" cy="571.5" r="4.4" fill="none" stroke="#00ff00" stroke-width="1.15"/>
<circle cx="277.2" cy="570.2" r="4.4" fill="none" stroke="#00ff00" stroke-width="1.15"/>
<circle cx="252.7" cy="574.8" r="4.4" fill="none" stroke="#00ff00" stroke-width="1.15"/>
<circle cx="256.6" cy="580.9" r="4.4" fill="none" stroke="#00ff00" stroke-width="1.15"/>
<circle cx="297.1" cy="585.6" r="4.4" fill="none" stroke="#00ff00" stroke-width="1.15"/>
<rect x="194.85" y="578.05" width="6.3" height="6.3" fill="none" stroke="#000000" stroke-width="1.3" stroke-linejoin="round"/>
<rect x="186.55" y="581.45" width="6.3" height="6.3" fill="none" stroke="#000000" stroke-width="1.3" stroke-linejoin="round"/>
<rect x="192.65" y="592.85" width="6.3" height="6.3" fill="none" stroke="#000000" stroke-width="1.3" stroke-linejoin="round"/>
<rect x="198.85" y="597.85" width="6.3" height="6.3" fill="none" stroke="#000000" stroke-width="1.3" stroke-linejoin="round"/>
<rect x="198.85" y="607.55" width="6.3" height="6.3" fill="none" stroke="#000000" stroke-width="1.3" stroke-linejoin="round"/>
<rect x="200.85" y="626.75" width="6.3" height="6.3" fill="none" stroke="#000000" stroke-width="1.3" stroke-linejoin="round"/>
<rect x="164.65" y="635.85" width="6.3" height="6.3" fill="none" stroke="#000000" stroke-width="1.3" stroke-linejoin="round"/>
<rect x="170.85" y="632.75" width="6.3" height="6.3" fill="none" stroke="#000000" stroke-width="1.3" stroke-linejoin="round"/>
<rect x="172.85" y="650.35" width="6.3" height="6.3" fill="none" stroke="#000000" stroke-width="1.3" stroke-linejoin="round"/>
<rect x="231.35" y="569.35" width="6.3" height="6.3" fill="none" stroke="#000000" stroke-width="1.3" stroke-linejoin="round"/>
<rect x="182.65" y="563.55" width="6.7" height="6.7" fill="#000000"/>
<rect x="192.45" y="565.35" width="6.7" height="6.7" fill="#000000"/>
<rect x="197.35" y="571.15" width="6.7" height="6.7" fill="#000000"/>
<rect x="186.15" y="592.25" width="6.7" height="6.7" fill="#000000"/>
<circle cx="272.9" cy="540.6" r="4.9" fill="#ff00ff"/>
<circle cx="271.4" cy="594.8" r="4.9" fill="#ff00ff"/>
<circle cx="287.9" cy="504.3" r="4.9" fill="#ff00ff"/>
<circle cx="377" cy="428.1" r="4.9" fill="#ff00ff"/>
<circle cx="381.3" cy="444.1" r="4.9" fill="#ff00ff"/>
<circle cx="374.3" cy="447.1" r="4.9" fill="#ff00ff"/>
</g>
<line x1="103.3" y1="686.9" x2="419.2" y2="453.0" stroke="#000000" stroke-width="1.2" clip-path="url(#clipc)"/>
<path d="M103.3 728.2v-3.4M103.3 412.4v3.4M116.46 728.2v-3.4M116.46 412.4v3.4M129.62 728.2v-3.4M129.62 412.4v3.4M142.79 728.2v-6.8M142.79 412.4v6.8M155.95 728.2v-3.4M155.95 412.4v3.4M169.11 728.2v-3.4M169.11 412.4v3.4M182.28 728.2v-3.4M182.28 412.4v3.4M195.44 728.2v-3.4M195.44 412.4v3.4M208.6 728.2v-6.8M208.6 412.4v6.8M221.76 728.2v-3.4M221.76 412.4v3.4M234.92 728.2v-3.4M234.92 412.4v3.4M248.09 728.2v-3.4M248.09 412.4v3.4M261.25 728.2v-3.4M261.25 412.4v3.4M274.41 728.2v-6.8M274.41 412.4v6.8M287.58 728.2v-3.4M287.58 412.4v3.4M300.74 728.2v-3.4M300.74 412.4v3.4M313.9 728.2v-3.4M313.9 412.4v3.4M327.06 728.2v-3.4M327.06 412.4v3.4M340.22 728.2v-6.8M340.22 412.4v6.8M353.39 728.2v-3.4M353.39 412.4v3.4M366.55 728.2v-3.4M366.55 412.4v3.4M379.71 728.2v-3.4M379.71 412.4v3.4M392.87 728.2v-3.4M392.87 412.4v3.4M406.04 728.2v-6.8M406.04 412.4v6.8M419.2 728.2v-3.4M419.2 412.4v3.4M103.3 721.76h3.4M419.2 721.76h-3.4M103.3 708.87h3.4M419.2 708.87h-3.4M103.3 695.98h6.8M419.2 695.98h-6.8M103.3 683.09h3.4M419.2 683.09h-3.4M103.3 670.2h3.4M419.2 670.2h-3.4M103.3 657.31h3.4M419.2 657.31h-3.4M103.3 644.42h3.4M419.2 644.42h-3.4M103.3 631.53h6.8M419.2 631.53h-6.8M103.3 618.64h3.4M419.2 618.64h-3.4M103.3 605.75h3.4M419.2 605.75h-3.4M103.3 592.86h3.4M419.2 592.86h-3.4M103.3 579.97h3.4M419.2 579.97h-3.4M103.3 567.08h6.8M419.2 567.08h-6.8M103.3 554.19h3.4M419.2 554.19h-3.4M103.3 541.3h3.4M419.2 541.3h-3.4M103.3 528.41h3.4M419.2 528.41h-3.4M103.3 515.52h3.4M419.2 515.52h-3.4M103.3 502.63h6.8M419.2 502.63h-6.8M103.3 489.74h3.4M419.2 489.74h-3.4M103.3 476.85h3.4M419.2 476.85h-3.4M103.3 463.96h3.4M419.2 463.96h-3.4M103.3 451.07h3.4M419.2 451.07h-3.4M103.3 438.18h6.8M419.2 438.18h-6.8M103.3 425.29h3.4M419.2 425.29h-3.4M103.3 412.4h3.4M419.2 412.4h-3.4" stroke="#000" stroke-width="1.1" fill="none"/>
<rect x="103.3" y="412.4" width="315.9" height="315.8" fill="none" stroke="#000" stroke-width="1.15"/>
<text x="142.79" y="742.3" class="tl" text-anchor="middle" textLength="12.7" lengthAdjust="spacingAndGlyphs">43</text>
<text x="208.6" y="742.3" class="tl" text-anchor="middle" textLength="12.7" lengthAdjust="spacingAndGlyphs">44</text>
<text x="274.41" y="742.3" class="tl" text-anchor="middle" textLength="12.7" lengthAdjust="spacingAndGlyphs">45</text>
<text x="340.22" y="742.3" class="tl" text-anchor="middle" textLength="12.7" lengthAdjust="spacingAndGlyphs">46</text>
<text x="406.04" y="742.3" class="tl" text-anchor="middle" textLength="12.7" lengthAdjust="spacingAndGlyphs">47</text>
<text x="96.5" y="700.08" class="tl" text-anchor="end" textLength="12.7" lengthAdjust="spacingAndGlyphs">42</text>
<text x="96.5" y="635.63" class="tl" text-anchor="end" textLength="12.7" lengthAdjust="spacingAndGlyphs">43</text>
<text x="96.5" y="571.18" class="tl" text-anchor="end" textLength="12.7" lengthAdjust="spacingAndGlyphs">44</text>
<text x="96.5" y="506.73" class="tl" text-anchor="end" textLength="12.7" lengthAdjust="spacingAndGlyphs">45</text>
<text x="96.5" y="442.28" class="tl" text-anchor="end" textLength="12.7" lengthAdjust="spacingAndGlyphs">46</text>
<g transform="translate(261.25 758.3)"><text x="-24.19" y="0" class="al" textLength="18.1" lengthAdjust="spacingAndGlyphs">Log</text><text x="-0.19" y="0" class="al" textLength="6.6" lengthAdjust="spacingAndGlyphs">L</text><text x="6.11" y="2.5" class="sub" textLength="18.08" lengthAdjust="spacingAndGlyphs">60μm</text></g>
<g transform="translate(61.7 570.3) rotate(-90)"><text x="-26.45" y="0" class="al" textLength="18.1" lengthAdjust="spacingAndGlyphs">Log</text><text x="-2.45" y="0" class="al" textLength="6.6" lengthAdjust="spacingAndGlyphs">L</text><text x="3.85" y="2.5" class="sub" textLength="22.6" lengthAdjust="spacingAndGlyphs">200μm</text></g>
<text x="129.8" y="451.2" class="eq" textLength="6.1" lengthAdjust="spacingAndGlyphs">y</text>
<text x="144.6" y="451.2" class="eq" textLength="7.8" lengthAdjust="spacingAndGlyphs">=</text>
<text x="160" y="451.2" class="eq" textLength="57.2" lengthAdjust="spacingAndGlyphs">0.864884</text>
<text x="224.7" y="451.2" class="eq" textLength="6.5" lengthAdjust="spacingAndGlyphs">x</text>
<text x="239.2" y="451.2" class="eq" textLength="7.4" lengthAdjust="spacingAndGlyphs">+</text>
<text x="254.5" y="451.2" class="eq" textLength="49.6" lengthAdjust="spacingAndGlyphs">5.26882</text>
<text x="130.1" y="470.4" class="eq" textLength="7.6" lengthAdjust="spacingAndGlyphs">R</text>
<text x="145.2" y="470.4" class="eq" textLength="7.5" lengthAdjust="spacingAndGlyphs">=</text>
<text x="160.8" y="470.4" class="eq" textLength="56.7" lengthAdjust="spacingAndGlyphs">0.876022</text>
<text x="226.2" y="470.4" class="eq" textLength="19.2" lengthAdjust="spacingAndGlyphs">(88</text>
<text x="252.7" y="470.4" class="eq" textLength="51.4" lengthAdjust="spacingAndGlyphs">objects)</text>
<text x="116.7" y="439.1" font-family="Liberation Sans, sans-serif" font-size="30.3" fill="#000" stroke="#fff" stroke-width="0.95" textLength="18.4" lengthAdjust="spacingAndGlyphs">c</text>
<path d="M283.6 620.95L287.65 614.45L291.7 620.95Z" fill="none" stroke="#ff0000" stroke-width="1.2"/>
<text x="300.85" y="619.1" class="lg" fill="#ff0000" stroke="#ff0000" textLength="21.8" lengthAdjust="spacingAndGlyphs">Sy1</text>
<text x="330.75" y="619.1" class="lg" fill="#ff0000" stroke="#ff0000" textLength="29.8" lengthAdjust="spacingAndGlyphs">(this</text>
<text x="367.85" y="619.1" class="lg" fill="#ff0000" stroke="#ff0000" textLength="36" lengthAdjust="spacingAndGlyphs">work)</text>
<path d="M287.65 626.69L288.77 630L292.26 630.04L289.46 632.13L290.5 635.46L287.65 633.44L284.8 635.46L285.84 632.13L283.04 630.04L286.53 630Z" fill="none" stroke="#ff0000" stroke-width="1.15" stroke-linejoin="round"/>
<text x="300.85" y="631.98" class="lg" fill="#ff0000" stroke="#ff0000" textLength="21.5" lengthAdjust="spacingAndGlyphs">CfA</text>
<text x="327.85" y="631.98" class="lg" fill="#ff0000" stroke="#ff0000" textLength="21.6" lengthAdjust="spacingAndGlyphs">Sy1</text>
<text x="358.15" y="631.98" class="lg" fill="#ff0000" stroke="#ff0000" textLength="43.8" lengthAdjust="spacingAndGlyphs">(PGRE)</text>
<path d="M283.55 647.58L287.65 640.53L291.75 647.58Z" fill="#0000ff"/>
<text x="300.85" y="644.86" class="lg" fill="#0000ff" stroke="#0000ff" textLength="21.8" lengthAdjust="spacingAndGlyphs">Sy2</text>
<text x="330.75" y="644.86" class="lg" fill="#0000ff" stroke="#0000ff" textLength="29.8" lengthAdjust="spacingAndGlyphs">(this</text>
<text x="367.85" y="644.86" class="lg" fill="#0000ff" stroke="#0000ff" textLength="36" lengthAdjust="spacingAndGlyphs">work)</text>
<path d="M287.65 652.82L292.17 656.1L290.44 661.41L284.86 661.41L283.13 656.1Z" fill="#0000ff"/>
<text x="300.85" y="657.74" class="lg" fill="#0000ff" stroke="#0000ff" textLength="21.5" lengthAdjust="spacingAndGlyphs">CfA</text>
<text x="327.85" y="657.74" class="lg" fill="#0000ff" stroke="#0000ff" textLength="21.6" lengthAdjust="spacingAndGlyphs">Sy2</text>
<text x="358.15" y="657.74" class="lg" fill="#0000ff" stroke="#0000ff" textLength="43.8" lengthAdjust="spacingAndGlyphs">(PGRE)</text>
<circle cx="287.65" cy="670.16" r="4.4" fill="none" stroke="#00ff00" stroke-width="1.15"/>
<text x="300.85" y="670.62" class="lg" fill="#00ff00" stroke="#00ff00" textLength="21.9" lengthAdjust="spacingAndGlyphs">sbn</text>
<text x="330.75" y="670.62" class="lg" fill="#00ff00" stroke="#00ff00" textLength="29.8" lengthAdjust="spacingAndGlyphs">(this</text>
<text x="367.85" y="670.62" class="lg" fill="#00ff00" stroke="#00ff00" textLength="36" lengthAdjust="spacingAndGlyphs">work)</text>
<rect x="284.5" y="680.05" width="6.3" height="6.3" fill="none" stroke="#000000" stroke-width="1.3" stroke-linejoin="round"/>
<text x="300.85" y="683.5" class="lg" fill="#000000" stroke="#000000" textLength="47.8" lengthAdjust="spacingAndGlyphs">normal</text>
<rect x="284.3" y="692.89" width="6.7" height="6.7" fill="#000000"/>
<text x="300.85" y="696.38" class="lg" fill="#000000" stroke="#000000" textLength="44.6" lengthAdjust="spacingAndGlyphs">nearby</text>
<text x="352.75" y="696.38" class="lg" fill="#000000" stroke="#000000" textLength="44.3" lengthAdjust="spacingAndGlyphs">spirals</text>
<circle cx="287.65" cy="709.28" r="4.9" fill="#ff00ff"/>
<text x="300.85" y="709.26" class="lg" fill="#ff00ff" stroke="#ff00ff" textLength="17.5" lengthAdjust="spacingAndGlyphs">PG</text>
<text x="324.75" y="709.26" class="lg" fill="#ff00ff" stroke="#ff00ff" textLength="51.1" lengthAdjust="spacingAndGlyphs">quasars</text>
</g>
<g id="panel-d">
<clipPath id="clipd"><rect x="483" y="412.4" width="315.9" height="315.8"/></clipPath>
<g clip-path="url(#clipd)">
<path d="M534.95 673.35L539 666.85L543.05 673.35Z" fill="none" stroke="#ff0000" stroke-width="1.2"/>
<path d="M490.25 708.95L494.3 702.45L498.35 708.95Z" fill="none" stroke="#ff0000" stroke-width="1.2"/>
<path d="M542.85 635.35L546.9 628.85L550.95 635.35Z" fill="none" stroke="#ff0000" stroke-width="1.2"/>
<path d="M543.45 636.25L547.5 629.75L551.55 636.25Z" fill="none" stroke="#ff0000" stroke-width="1.2"/>
<path d="M532.25 645.95L536.3 639.45L540.35 645.95Z" fill="none" stroke="#ff0000" stroke-width="1.2"/>
<path d="M535.45 654.65L539.5 648.15L543.55 654.65Z" fill="none" stroke="#ff0000" stroke-width="1.2"/>
<path d="M600.75 592.35L604.8 585.85L608.85 592.35Z" fill="none" stroke="#ff0000" stroke-width="1.2"/>
<path d="M573.65 611.65L577.7 605.15L581.75 611.65Z" fill="none" stroke="#ff0000" stroke-width="1.2"/>
<path d="M609.95 577.85L614 571.35L618.05 577.85Z" fill="none" stroke="#ff0000" stroke-width="1.2"/>
<path d="M634.55 571.15L638.6 564.65L642.65 571.15Z" fill="none" stroke="#ff0000" stroke-width="1.2"/>
<path d="M648.35 571.15L652.4 564.65L656.45 571.15Z" fill="none" stroke="#ff0000" stroke-width="1.2"/>
<path d="M601.55 604.65L605.6 598.15L609.65 604.65Z" fill="none" stroke="#ff0000" stroke-width="1.2"/>
<path d="M614.85 603.95L618.9 597.45L622.95 603.95Z" fill="none" stroke="#ff0000" stroke-width="1.2"/>
<path d="M571.95 629.45L576 622.95L580.05 629.45Z" fill="none" stroke="#ff0000" stroke-width="1.2"/>
<path d="M584.05 632.15L588.1 625.65L592.15 632.15Z" fill="none" stroke="#ff0000" stroke-width="1.2"/>
<path d="M690.55 521.25L694.6 514.75L698.65 521.25Z" fill="none" stroke="#ff0000" stroke-width="1.2"/>
<path d="M514.7 641.95L515.82 645.26L519.31 645.3L516.51 647.39L517.55 650.72L514.7 648.7L511.85 650.72L512.89 647.39L510.09 645.3L513.58 645.26Z" fill="none" stroke="#ff0000" stroke-width="1.15" stroke-linejoin="round"/>
<path d="M504.1 680.45L505.22 683.76L508.71 683.8L505.91 685.89L506.95 689.22L504.1 687.2L501.25 689.22L502.29 685.89L499.49 683.8L502.98 683.76Z" fill="none" stroke="#ff0000" stroke-width="1.15" stroke-linejoin="round"/>
<path d="M529.4 689.65L530.52 692.96L534.01 693L531.21 695.09L532.25 698.42L529.4 696.4L526.55 698.42L527.59 695.09L524.79 693L528.28 692.96Z" fill="none" stroke="#ff0000" stroke-width="1.15" stroke-linejoin="round"/>
<path d="M545.2 612.45L546.32 615.76L549.81 615.8L547.01 617.89L548.05 621.22L545.2 619.2L542.35 621.22L543.39 617.89L540.59 615.8L544.08 615.76Z" fill="none" stroke="#ff0000" stroke-width="1.15" stroke-linejoin="round"/>
<path d="M534.5 626.35L535.62 629.66L539.11 629.7L536.31 631.79L537.35 635.12L534.5 633.1L531.65 635.12L532.69 631.79L529.89 629.7L533.38 629.66Z" fill="none" stroke="#ff0000" stroke-width="1.15" stroke-linejoin="round"/>
<path d="M546.7 642.95L547.82 646.26L551.31 646.3L548.51 648.39L549.55 651.72L546.7 649.7L543.85 651.72L544.89 648.39L542.09 646.3L545.58 646.26Z" fill="none" stroke="#ff0000" stroke-width="1.15" stroke-linejoin="round"/>
<path d="M595.4 608.35L596.52 611.66L600.01 611.7L597.21 613.79L598.25 617.12L595.4 615.1L592.55 617.12L593.59 613.79L590.79 611.7L594.28 611.66Z" fill="none" stroke="#ff0000" stroke-width="1.15" stroke-linejoin="round"/>
<path d="M635.5 548.35L636.62 551.66L640.11 551.7L637.31 553.79L638.35 557.12L635.5 555.1L632.65 557.12L633.69 553.79L630.89 551.7L634.38 551.66Z" fill="none" stroke="#ff0000" stroke-width="1.15" stroke-linejoin="round"/>
<path d="M565.5 624.85L566.62 628.16L570.11 628.2L567.31 630.29L568.35 633.62L565.5 631.6L562.65 633.62L563.69 630.29L560.89 628.2L564.38 628.16Z" fill="none" stroke="#ff0000" stroke-width="1.15" stroke-linejoin="round"/>
<path d="M684.7 510.75L685.82 514.06L689.31 514.1L686.51 516.19L687.55 519.52L684.7 517.5L681.85 519.52L682.89 516.19L680.09 514.1L683.58 514.06Z" fill="none" stroke="#ff0000" stroke-width="1.15" stroke-linejoin="round"/>
<path d="M530.8 668.3L534.9 661.25L539 668.3Z" fill="#0000ff"/>
<path d="M536.5 638L540.6 630.95L544.7 638Z" fill="#0000ff"/>
<path d="M537.9 643L542 635.95L546.1 643Z" fill="#0000ff"/>
<path d="M550.5 637.5L554.6 630.45L558.7 637.5Z" fill="#0000ff"/>
<path d="M551 644L555.1 636.95L559.2 644Z" fill="#0000ff"/>
<path d="M547 650.8L551.1 643.75L555.2 650.8Z" fill="#0000ff"/>
<path d="M589.2 595.2L593.3 588.15L597.4 595.2Z" fill="#0000ff"/>
<path d="M604 594L608.1 586.95L612.2 594Z" fill="#0000ff"/>
<path d="M581.2 620.8L585.3 613.75L589.4 620.8Z" fill="#0000ff"/>
<path d="M601.8 575.8L605.9 568.75L610 575.8Z" fill="#0000ff"/>
<path d="M582.4 621L586.5 613.95L590.6 621Z" fill="#0000ff"/>
<path d="M565.7 620.5L569.8 613.45L573.9 620.5Z" fill="#0000ff"/>
<path d="M654 559.8L658.1 552.75L662.2 559.8Z" fill="#0000ff"/>
<path d="M623.2 581.4L627.3 574.35L631.4 581.4Z" fill="#0000ff"/>
<path d="M622.9 587.4L627 580.35L631.1 587.4Z" fill="#0000ff"/>
<path d="M610.7 593.3L614.8 586.25L618.9 593.3Z" fill="#0000ff"/>
<path d="M621.2 602L625.3 594.95L629.4 602Z" fill="#0000ff"/>
<path d="M609.3 604.1L613.4 597.05L617.5 604.1Z" fill="#0000ff"/>
<path d="M614.7 610.2L618.8 603.15L622.9 610.2Z" fill="#0000ff"/>
<path d="M613.8 617.8L617.9 610.75L622 617.8Z" fill="#0000ff"/>
<path d="M575.1 629.1L579.2 622.05L583.3 629.1Z" fill="#0000ff"/>
<path d="M671.9 539.8L676 532.75L680.1 539.8Z" fill="#0000ff"/>
<path d="M665.2 546.9L669.3 539.85L673.4 546.9Z" fill="#0000ff"/>
<path d="M538.9 632.2L543.42 635.48L541.69 640.79L536.11 640.79L534.38 635.48Z" fill="#0000ff"/>
<path d="M578.1 590.1L582.62 593.38L580.89 598.69L575.31 598.69L573.58 593.38Z" fill="#0000ff"/>
<path d="M578.4 592.9L582.92 596.18L581.19 601.49L575.61 601.49L573.88 596.18Z" fill="#0000ff"/>
<path d="M601.2 586.7L605.72 589.98L603.99 595.29L598.41 595.29L596.68 589.98Z" fill="#0000ff"/>
<path d="M635.3 534.7L639.82 537.98L638.09 543.29L632.51 543.29L630.78 537.98Z" fill="#0000ff"/>
<path d="M633 559.9L637.52 563.18L635.79 568.49L630.21 568.49L628.48 563.18Z" fill="#0000ff"/>
<path d="M569.8 614.8L574.32 618.08L572.59 623.39L567.01 623.39L565.28 618.08Z" fill="#0000ff"/>
<circle cx="660.5" cy="554.1" r="4.4" fill="none" stroke="#00ff00" stroke-width="1.15"/>
<circle cx="652.7" cy="561.7" r="4.4" fill="none" stroke="#00ff00" stroke-width="1.15"/>
<circle cx="644" cy="564.4" r="4.4" fill="none" stroke="#00ff00" stroke-width="1.15"/>
<circle cx="653.7" cy="566.2" r="4.4" fill="none" stroke="#00ff00" stroke-width="1.15"/>
<circle cx="641.1" cy="567.8" r="4.4" fill="none" stroke="#00ff00" stroke-width="1.15"/>
<circle cx="648.3" cy="570" r="4.4" fill="none" stroke="#00ff00" stroke-width="1.15"/>
<circle cx="637.8" cy="571.7" r="4.4" fill="none" stroke="#00ff00" stroke-width="1.15"/>
<circle cx="634.6" cy="574.9" r="4.4" fill="none" stroke="#00ff00" stroke-width="1.15"/>
<circle cx="630.2" cy="580.8" r="4.4" fill="none" stroke="#00ff00" stroke-width="1.15"/>
<circle cx="655.2" cy="585.5" r="4.4" fill="none" stroke="#00ff00" stroke-width="1.15"/>
<circle cx="607.4" cy="628.3" r="4.4" fill="none" stroke="#00ff00" stroke-width="1.15"/>
<rect x="555.15" y="632.75" width="6.3" height="6.3" fill="none" stroke="#000000" stroke-width="1.3" stroke-linejoin="round"/>
<rect x="550.95" y="635.85" width="6.3" height="6.3" fill="none" stroke="#000000" stroke-width="1.3" stroke-linejoin="round"/>
<rect x="548.85" y="650.35" width="6.3" height="6.3" fill="none" stroke="#000000" stroke-width="1.3" stroke-linejoin="round"/>
<rect x="583.95" y="592.55" width="6.3" height="6.3" fill="none" stroke="#000000" stroke-width="1.3" stroke-linejoin="round"/>
<rect x="584.65" y="597.95" width="6.3" height="6.3" fill="none" stroke="#000000" stroke-width="1.3" stroke-linejoin="round"/>
<rect x="582.15" y="607.35" width="6.3" height="6.3" fill="none" stroke="#000000" stroke-width="1.3" stroke-linejoin="round"/>
<rect x="586.05" y="578.25" width="6.3" height="6.3" fill="none" stroke="#000000" stroke-width="1.3" stroke-linejoin="round"/>
<rect x="616.85" y="569.15" width="6.3" height="6.3" fill="none" stroke="#000000" stroke-width="1.3" stroke-linejoin="round"/>
<rect x="586.85" y="581.35" width="6.3" height="6.3" fill="none" stroke="#000000" stroke-width="1.3" stroke-linejoin="round"/>
<rect x="569.15" y="626.75" width="6.3" height="6.3" fill="none" stroke="#000000" stroke-width="1.3" stroke-linejoin="round"/>
<rect x="563.85" y="592.45" width="6.7" height="6.7" fill="#000000"/>
<rect x="583.95" y="563.95" width="6.7" height="6.7" fill="#000000"/>
<rect x="585.85" y="565.75" width="6.7" height="6.7" fill="#000000"/>
<rect x="587.15" y="571.35" width="6.7" height="6.7" fill="#000000"/>
<circle cx="599.8" cy="579.6" r="4.9" fill="#ff00ff"/>
<circle cx="646.9" cy="541.1" r="4.9" fill="#ff00ff"/>
<circle cx="626.9" cy="594.7" r="4.9" fill="#ff00ff"/>
<circle cx="746.4" cy="427.9" r="4.9" fill="#ff00ff"/>
<circle cx="756.6" cy="444.3" r="4.9" fill="#ff00ff"/>
<circle cx="748.5" cy="447" r="4.9" fill="#ff00ff"/>
<circle cx="655.8" cy="504.1" r="4.9" fill="#ff00ff"/>
<circle cx="674.7" cy="501.2" r="4.9" fill="#ff00ff"/>
</g>
<line x1="483" y1="708.2" x2="798.9" y2="412.78" stroke="#ff00ff" stroke-width="1.2" clip-path="url(#clipd)"/>
<path d="M483 728.2v-3.4M483 412.4v3.4M496.16 728.2v-3.4M496.16 412.4v3.4M509.32 728.2v-3.4M509.32 412.4v3.4M522.49 728.2v-6.8M522.49 412.4v6.8M535.65 728.2v-3.4M535.65 412.4v3.4M548.81 728.2v-3.4M548.81 412.4v3.4M561.98 728.2v-3.4M561.98 412.4v3.4M575.14 728.2v-3.4M575.14 412.4v3.4M588.3 728.2v-6.8M588.3 412.4v6.8M601.46 728.2v-3.4M601.46 412.4v3.4M614.62 728.2v-3.4M614.62 412.4v3.4M627.79 728.2v-3.4M627.79 412.4v3.4M640.95 728.2v-3.4M640.95 412.4v3.4M654.11 728.2v-6.8M654.11 412.4v6.8M667.28 728.2v-3.4M667.28 412.4v3.4M680.44 728.2v-3.4M680.44 412.4v3.4M693.6 728.2v-3.4M693.6 412.4v3.4M706.76 728.2v-3.4M706.76 412.4v3.4M719.92 728.2v-6.8M719.92 412.4v6.8M733.09 728.2v-3.4M733.09 412.4v3.4M746.25 728.2v-3.4M746.25 412.4v3.4M759.41 728.2v-3.4M759.41 412.4v3.4M772.57 728.2v-3.4M772.57 412.4v3.4M785.74 728.2v-6.8M785.74 412.4v6.8M798.9 728.2v-3.4M798.9 412.4v3.4M483 721.76h3.4M798.9 721.76h-3.4M483 708.87h3.4M798.9 708.87h-3.4M483 695.98h6.8M798.9 695.98h-6.8M483 683.09h3.4M798.9 683.09h-3.4M483 670.2h3.4M798.9 670.2h-3.4M483 657.31h3.4M798.9 657.31h-3.4M483 644.42h3.4M798.9 644.42h-3.4M483 631.53h6.8M798.9 631.53h-6.8M483 618.64h3.4M798.9 618.64h-3.4M483 605.75h3.4M798.9 605.75h-3.4M483 592.86h3.4M798.9 592.86h-3.4M483 579.97h3.4M798.9 579.97h-3.4M483 567.08h6.8M798.9 567.08h-6.8M483 554.19h3.4M798.9 554.19h-3.4M483 541.3h3.4M798.9 541.3h-3.4M483 528.41h3.4M798.9 528.41h-3.4M483 515.52h3.4M798.9 515.52h-3.4M483 502.63h6.8M798.9 502.63h-6.8M483 489.74h3.4M798.9 489.74h-3.4M483 476.85h3.4M798.9 476.85h-3.4M483 463.96h3.4M798.9 463.96h-3.4M483 451.07h3.4M798.9 451.07h-3.4M483 438.18h6.8M798.9 438.18h-6.8M483 425.29h3.4M798.9 425.29h-3.4M483 412.4h3.4M798.9 412.4h-3.4" stroke="#000" stroke-width="1.1" fill="none"/>
<rect x="483" y="412.4" width="315.9" height="315.8" fill="none" stroke="#000" stroke-width="1.15"/>
<text x="522.49" y="742.3" class="tl" text-anchor="middle" textLength="12.7" lengthAdjust="spacingAndGlyphs">43</text>
<text x="588.3" y="742.3" class="tl" text-anchor="middle" textLength="12.7" lengthAdjust="spacingAndGlyphs">44</text>
<text x="654.11" y="742.3" class="tl" text-anchor="middle" textLength="12.7" lengthAdjust="spacingAndGlyphs">45</text>
<text x="719.92" y="742.3" class="tl" text-anchor="middle" textLength="12.7" lengthAdjust="spacingAndGlyphs">46</text>
<text x="785.74" y="742.3" class="tl" text-anchor="middle" textLength="12.7" lengthAdjust="spacingAndGlyphs">47</text>
<text x="476.2" y="700.08" class="tl" text-anchor="end" textLength="12.7" lengthAdjust="spacingAndGlyphs">42</text>
<text x="476.2" y="635.63" class="tl" text-anchor="end" textLength="12.7" lengthAdjust="spacingAndGlyphs">43</text>
<text x="476.2" y="571.18" class="tl" text-anchor="end" textLength="12.7" lengthAdjust="spacingAndGlyphs">44</text>
<text x="476.2" y="506.73" class="tl" text-anchor="end" textLength="12.7" lengthAdjust="spacingAndGlyphs">45</text>
<text x="476.2" y="442.28" class="tl" text-anchor="end" textLength="12.7" lengthAdjust="spacingAndGlyphs">46</text>
<g transform="translate(640.95 758.3)"><text x="-26.45" y="0" class="al" textLength="18.1" lengthAdjust="spacingAndGlyphs">Log</text><text x="-2.45" y="0" class="al" textLength="6.6" lengthAdjust="spacingAndGlyphs">L</text><text x="3.85" y="2.5" class="sub" textLength="22.6" lengthAdjust="spacingAndGlyphs">100μm</text></g>
<g transform="translate(441.4 570.3) rotate(-90)"><text x="-26.45" y="0" class="al" textLength="18.1" lengthAdjust="spacingAndGlyphs">Log</text><text x="-2.45" y="0" class="al" textLength="6.6" lengthAdjust="spacingAndGlyphs">L</text><text x="3.85" y="2.5" class="sub" textLength="22.6" lengthAdjust="spacingAndGlyphs">200μm</text></g>
<text x="509.8" y="451.2" class="eq" textLength="6.1" lengthAdjust="spacingAndGlyphs">y</text>
<text x="524.6" y="451.2" class="eq" textLength="7.8" lengthAdjust="spacingAndGlyphs">=</text>
<text x="540" y="451.2" class="eq" textLength="57.2" lengthAdjust="spacingAndGlyphs">0.954963</text>
<text x="604.7" y="451.2" class="eq" textLength="6.5" lengthAdjust="spacingAndGlyphs">x</text>
<text x="619.2" y="451.2" class="eq" textLength="7.4" lengthAdjust="spacingAndGlyphs">+</text>
<text x="634.5" y="451.2" class="eq" textLength="49.6" lengthAdjust="spacingAndGlyphs">1.31987</text>
<text x="510.1" y="470.4" class="eq" textLength="7.6" lengthAdjust="spacingAndGlyphs">R</text>
<text x="525.2" y="470.4" class="eq" textLength="7.5" lengthAdjust="spacingAndGlyphs">=</text>
<text x="540.8" y="470.4" class="eq" textLength="56.7" lengthAdjust="spacingAndGlyphs">0.923273</text>
<text x="606.2" y="470.4" class="eq" textLength="19.2" lengthAdjust="spacingAndGlyphs">(90</text>
<text x="632.7" y="470.4" class="eq" textLength="51.4" lengthAdjust="spacingAndGlyphs">objects)</text>
<text x="496.3" y="439.2" font-family="Liberation Sans, sans-serif" font-size="31.2" fill="#000" stroke="#fff" stroke-width="0.95" textLength="19.4" lengthAdjust="spacingAndGlyphs">d</text>
<path d="M507.9 417.3H511.6M512.6 438.1H515.2" stroke="#000" stroke-width="1.1" fill="none"/>
<path d="M663.25 620.95L667.3 614.45L671.35 620.95Z" fill="none" stroke="#ff0000" stroke-width="1.2"/>
<text x="680.55" y="619.1" class="lg" fill="#ff0000" stroke="#ff0000" textLength="21.8" lengthAdjust="spacingAndGlyphs">Sy1</text>
<text x="710.45" y="619.1" class="lg" fill="#ff0000" stroke="#ff0000" textLength="29.8" lengthAdjust="spacingAndGlyphs">(this</text>
<text x="747.55" y="619.1" class="lg" fill="#ff0000" stroke="#ff0000" textLength="36" lengthAdjust="spacingAndGlyphs">work)</text>
<path d="M667.3 626.69L668.42 630L671.91 630.04L669.11 632.13L670.15 635.46L667.3 633.44L664.45 635.46L665.49 632.13L662.69 630.04L666.18 630Z" fill="none" stroke="#ff0000" stroke-width="1.15" stroke-linejoin="round"/>
<text x="680.55" y="631.98" class="lg" fill="#ff0000" stroke="#ff0000" textLength="21.5" lengthAdjust="spacingAndGlyphs">CfA</text>
<text x="707.55" y="631.98" class="lg" fill="#ff0000" stroke="#ff0000" textLength="21.6" lengthAdjust="spacingAndGlyphs">Sy1</text>
<text x="737.85" y="631.98" class="lg" fill="#ff0000" stroke="#ff0000" textLength="43.8" lengthAdjust="spacingAndGlyphs">(PGRE)</text>
<path d="M663.2 647.58L667.3 640.53L671.4 647.58Z" fill="#0000ff"/>
<text x="680.55" y="644.86" class="lg" fill="#0000ff" stroke="#0000ff" textLength="21.8" lengthAdjust="spacingAndGlyphs">Sy2</text>
<text x="710.45" y="644.86" class="lg" fill="#0000ff" stroke="#0000ff" textLength="29.8" lengthAdjust="spacingAndGlyphs">(this</text>
<text x="747.55" y="644.86" class="lg" fill="#0000ff" stroke="#0000ff" textLength="36" lengthAdjust="spacingAndGlyphs">work)</text>
<path d="M667.3 652.82L671.82 656.1L670.09 661.41L664.51 661.41L662.78 656.1Z" fill="#0000ff"/>
<text x="680.55" y="657.74" class="lg" fill="#0000ff" stroke="#0000ff" textLength="21.5" lengthAdjust="spacingAndGlyphs">CfA</text>
<text x="707.55" y="657.74" class="lg" fill="#0000ff" stroke="#0000ff" textLength="21.6" lengthAdjust="spacingAndGlyphs">Sy2</text>
<text x="737.85" y="657.74" class="lg" fill="#0000ff" stroke="#0000ff" textLength="43.8" lengthAdjust="spacingAndGlyphs">(PGRE)</text>
<circle cx="667.3" cy="670.16" r="4.4" fill="none" stroke="#00ff00" stroke-width="1.15"/>
<text x="680.55" y="670.62" class="lg" fill="#00ff00" stroke="#00ff00" textLength="21.9" lengthAdjust="spacingAndGlyphs">sbn</text>
<text x="710.45" y="670.62" class="lg" fill="#00ff00" stroke="#00ff00" textLength="29.8" lengthAdjust="spacingAndGlyphs">(this</text>
<text x="747.55" y="670.62" class="lg" fill="#00ff00" stroke="#00ff00" textLength="36" lengthAdjust="spacingAndGlyphs">work)</text>
<rect x="664.15" y="680.05" width="6.3" height="6.3" fill="none" stroke="#000000" stroke-width="1.3" stroke-linejoin="round"/>
<text x="680.55" y="683.5" class="lg" fill="#000000" stroke="#000000" textLength="47.8" lengthAdjust="spacingAndGlyphs">normal</text>
<rect x="663.95" y="692.89" width="6.7" height="6.7" fill="#000000"/>
<text x="680.55" y="696.38" class="lg" fill="#000000" stroke="#000000" textLength="44.6" lengthAdjust="spacingAndGlyphs">nearby</text>
<text x="732.45" y="696.38" class="lg" fill="#000000" stroke="#000000" textLength="44.3" lengthAdjust="spacingAndGlyphs">spirals</text>
<circle cx="667.3" cy="709.28" r="4.9" fill="#ff00ff"/>
<text x="680.55" y="709.26" class="lg" fill="#ff00ff" stroke="#ff00ff" textLength="17.5" lengthAdjust="spacingAndGlyphs">PG</text>
<text x="704.45" y="709.26" class="lg" fill="#ff00ff" stroke="#ff00ff" textLength="51.1" lengthAdjust="spacingAndGlyphs">quasars</text>
</g>
</svg>
</body></html>
